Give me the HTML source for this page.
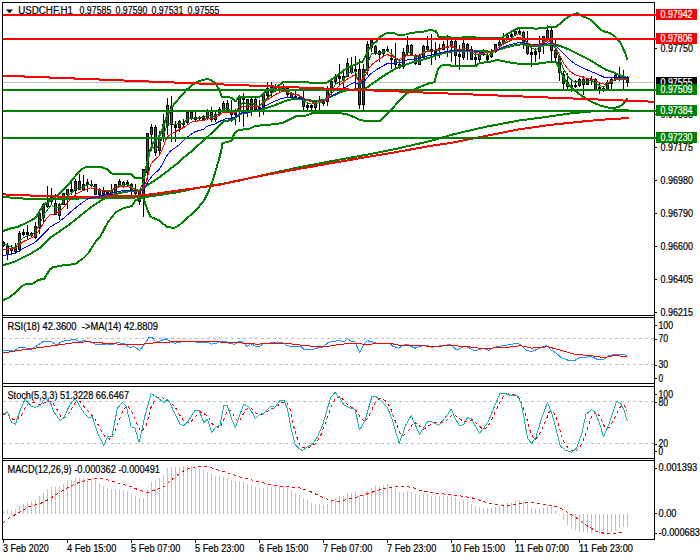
<!DOCTYPE html>
<html><head><meta charset="utf-8"><title>USDCHF H1</title>
<style>html,body{margin:0;padding:0;background:#fff}body{width:700px;height:560px;overflow:hidden;font-family:"Liberation Sans",sans-serif}svg{display:block}</style>
</head><body>
<svg width="700" height="560" viewBox="0 0 700 560" font-family="'Liberation Sans', sans-serif">
<rect width="700" height="560" fill="#fff"/>
<g clip-path="url(#cm)">
<defs><clipPath id="cm"><rect x="3" y="3" width="651" height="312"/></clipPath><clipPath id="c2"><rect x="3" y="318" width="651" height="65"/></clipPath><clipPath id="c3"><rect x="3" y="387" width="651" height="71"/></clipPath><clipPath id="c4"><rect x="3" y="461" width="651" height="78"/></clipPath></defs>
<line x1="3" y1="82.5" x2="654" y2="82.5" stroke="#c0c0c0" stroke-width="1" shape-rendering="crispEdges" />
<line x1="3.5" y1="241" x2="3.5" y2="247" stroke="#000" stroke-width="1" shape-rendering="crispEdges" />
<rect x="2" y="242" width="3" height="4" fill="#000" shape-rendering="crispEdges"/>
<rect x="3" y="243" width="1" height="2" fill="#ff0000" shape-rendering="crispEdges"/>
<line x1="7.5" y1="243" x2="7.5" y2="260" stroke="#000" stroke-width="1" shape-rendering="crispEdges" />
<rect x="6" y="246" width="3" height="8" fill="#000" shape-rendering="crispEdges"/>
<rect x="7" y="247" width="1" height="6" fill="#008000" shape-rendering="crispEdges"/>
<line x1="11.5" y1="245" x2="11.5" y2="255" stroke="#000" stroke-width="1" shape-rendering="crispEdges" />
<rect x="10" y="248" width="3" height="3" fill="#000" shape-rendering="crispEdges"/>
<rect x="11" y="249" width="1" height="1" fill="#ff0000" shape-rendering="crispEdges"/>
<line x1="15.5" y1="243" x2="15.5" y2="254" stroke="#000" stroke-width="1" shape-rendering="crispEdges" />
<rect x="14" y="248" width="3" height="4" fill="#000" shape-rendering="crispEdges"/>
<rect x="15" y="249" width="1" height="2" fill="#008000" shape-rendering="crispEdges"/>
<line x1="19.5" y1="231" x2="19.5" y2="252" stroke="#000" stroke-width="1" shape-rendering="crispEdges" />
<rect x="18" y="233" width="3" height="17" fill="#000" shape-rendering="crispEdges"/>
<rect x="19" y="234" width="1" height="15" fill="#008000" shape-rendering="crispEdges"/>
<line x1="23.5" y1="229" x2="23.5" y2="236" stroke="#000" stroke-width="1" shape-rendering="crispEdges" />
<rect x="22" y="232" width="3" height="3" fill="#000" shape-rendering="crispEdges"/>
<line x1="27.5" y1="225" x2="27.5" y2="240" stroke="#000" stroke-width="1" shape-rendering="crispEdges" />
<rect x="26" y="232" width="3" height="3" fill="#000" shape-rendering="crispEdges"/>
<line x1="31.5" y1="232" x2="31.5" y2="237" stroke="#000" stroke-width="1" shape-rendering="crispEdges" />
<rect x="30" y="233" width="3" height="3" fill="#000" shape-rendering="crispEdges"/>
<rect x="31" y="234" width="1" height="1" fill="#ff0000" shape-rendering="crispEdges"/>
<line x1="35.5" y1="222" x2="35.5" y2="239" stroke="#000" stroke-width="1" shape-rendering="crispEdges" />
<rect x="34" y="226" width="3" height="12" fill="#000" shape-rendering="crispEdges"/>
<rect x="35" y="227" width="1" height="10" fill="#008000" shape-rendering="crispEdges"/>
<line x1="39.5" y1="209" x2="39.5" y2="234" stroke="#000" stroke-width="1" shape-rendering="crispEdges" />
<rect x="38" y="213" width="3" height="15" fill="#000" shape-rendering="crispEdges"/>
<rect x="39" y="214" width="1" height="13" fill="#008000" shape-rendering="crispEdges"/>
<line x1="43.5" y1="203" x2="43.5" y2="224" stroke="#000" stroke-width="1" shape-rendering="crispEdges" />
<rect x="42" y="204" width="3" height="14" fill="#000" shape-rendering="crispEdges"/>
<rect x="43" y="205" width="1" height="12" fill="#008000" shape-rendering="crispEdges"/>
<line x1="47.5" y1="186" x2="47.5" y2="208" stroke="#000" stroke-width="1" shape-rendering="crispEdges" />
<rect x="46" y="202" width="3" height="5" fill="#000" shape-rendering="crispEdges"/>
<rect x="47" y="203" width="1" height="3" fill="#008000" shape-rendering="crispEdges"/>
<line x1="51.5" y1="188" x2="51.5" y2="204" stroke="#000" stroke-width="1" shape-rendering="crispEdges" />
<rect x="50" y="197" width="3" height="5" fill="#000" shape-rendering="crispEdges"/>
<rect x="51" y="198" width="1" height="3" fill="#008000" shape-rendering="crispEdges"/>
<line x1="55.5" y1="194" x2="55.5" y2="215" stroke="#000" stroke-width="1" shape-rendering="crispEdges" />
<rect x="54" y="203" width="3" height="12" fill="#000" shape-rendering="crispEdges"/>
<rect x="55" y="204" width="1" height="10" fill="#ff0000" shape-rendering="crispEdges"/>
<line x1="59.5" y1="203" x2="59.5" y2="220" stroke="#000" stroke-width="1" shape-rendering="crispEdges" />
<rect x="58" y="204" width="3" height="12" fill="#000" shape-rendering="crispEdges"/>
<rect x="59" y="205" width="1" height="10" fill="#008000" shape-rendering="crispEdges"/>
<line x1="63.5" y1="193" x2="63.5" y2="205" stroke="#000" stroke-width="1" shape-rendering="crispEdges" />
<rect x="62" y="193" width="3" height="12" fill="#000" shape-rendering="crispEdges"/>
<rect x="63" y="194" width="1" height="10" fill="#008000" shape-rendering="crispEdges"/>
<line x1="67.5" y1="189" x2="67.5" y2="209" stroke="#000" stroke-width="1" shape-rendering="crispEdges" />
<rect x="66" y="189" width="3" height="6" fill="#000" shape-rendering="crispEdges"/>
<rect x="67" y="190" width="1" height="4" fill="#008000" shape-rendering="crispEdges"/>
<line x1="71.5" y1="179" x2="71.5" y2="195" stroke="#000" stroke-width="1" shape-rendering="crispEdges" />
<rect x="70" y="189" width="3" height="3" fill="#000" shape-rendering="crispEdges"/>
<line x1="75.5" y1="179" x2="75.5" y2="200" stroke="#000" stroke-width="1" shape-rendering="crispEdges" />
<rect x="74" y="181" width="3" height="10" fill="#000" shape-rendering="crispEdges"/>
<rect x="75" y="182" width="1" height="8" fill="#008000" shape-rendering="crispEdges"/>
<line x1="79.5" y1="174" x2="79.5" y2="190" stroke="#000" stroke-width="1" shape-rendering="crispEdges" />
<rect x="78" y="181" width="3" height="9" fill="#000" shape-rendering="crispEdges"/>
<rect x="79" y="182" width="1" height="7" fill="#ff0000" shape-rendering="crispEdges"/>
<line x1="83.5" y1="175" x2="83.5" y2="191" stroke="#000" stroke-width="1" shape-rendering="crispEdges" />
<rect x="82" y="184" width="3" height="6" fill="#000" shape-rendering="crispEdges"/>
<rect x="83" y="185" width="1" height="4" fill="#008000" shape-rendering="crispEdges"/>
<line x1="87.5" y1="179" x2="87.5" y2="192" stroke="#000" stroke-width="1" shape-rendering="crispEdges" />
<rect x="86" y="182" width="3" height="3" fill="#000" shape-rendering="crispEdges"/>
<line x1="91.5" y1="180" x2="91.5" y2="187" stroke="#000" stroke-width="1" shape-rendering="crispEdges" />
<rect x="90" y="184" width="3" height="2" fill="#000" shape-rendering="crispEdges"/>
<line x1="95.5" y1="184" x2="95.5" y2="195" stroke="#000" stroke-width="1" shape-rendering="crispEdges" />
<rect x="94" y="184" width="3" height="11" fill="#000" shape-rendering="crispEdges"/>
<rect x="95" y="185" width="1" height="9" fill="#ff0000" shape-rendering="crispEdges"/>
<line x1="99.5" y1="188" x2="99.5" y2="196" stroke="#000" stroke-width="1" shape-rendering="crispEdges" />
<rect x="98" y="189" width="3" height="6" fill="#000" shape-rendering="crispEdges"/>
<rect x="99" y="190" width="1" height="4" fill="#ff0000" shape-rendering="crispEdges"/>
<line x1="103.5" y1="187" x2="103.5" y2="198" stroke="#000" stroke-width="1" shape-rendering="crispEdges" />
<rect x="102" y="190" width="3" height="5" fill="#000" shape-rendering="crispEdges"/>
<rect x="103" y="191" width="1" height="3" fill="#008000" shape-rendering="crispEdges"/>
<line x1="107.5" y1="191" x2="107.5" y2="197" stroke="#000" stroke-width="1" shape-rendering="crispEdges" />
<rect x="106" y="192" width="3" height="3" fill="#000" shape-rendering="crispEdges"/>
<line x1="111.5" y1="184" x2="111.5" y2="195" stroke="#000" stroke-width="1" shape-rendering="crispEdges" />
<rect x="110" y="190" width="3" height="5" fill="#000" shape-rendering="crispEdges"/>
<rect x="111" y="191" width="1" height="3" fill="#008000" shape-rendering="crispEdges"/>
<line x1="115.5" y1="184" x2="115.5" y2="195" stroke="#000" stroke-width="1" shape-rendering="crispEdges" />
<rect x="114" y="184" width="3" height="10" fill="#000" shape-rendering="crispEdges"/>
<rect x="115" y="185" width="1" height="8" fill="#008000" shape-rendering="crispEdges"/>
<line x1="119.5" y1="179" x2="119.5" y2="186" stroke="#000" stroke-width="1" shape-rendering="crispEdges" />
<rect x="118" y="181" width="3" height="4" fill="#000" shape-rendering="crispEdges"/>
<rect x="119" y="182" width="1" height="2" fill="#008000" shape-rendering="crispEdges"/>
<line x1="123.5" y1="181" x2="123.5" y2="188" stroke="#000" stroke-width="1" shape-rendering="crispEdges" />
<rect x="122" y="182" width="3" height="4" fill="#000" shape-rendering="crispEdges"/>
<rect x="123" y="183" width="1" height="2" fill="#ff0000" shape-rendering="crispEdges"/>
<line x1="127.5" y1="180" x2="127.5" y2="187" stroke="#000" stroke-width="1" shape-rendering="crispEdges" />
<rect x="126" y="182" width="3" height="3" fill="#000" shape-rendering="crispEdges"/>
<line x1="131.5" y1="183" x2="131.5" y2="198" stroke="#000" stroke-width="1" shape-rendering="crispEdges" />
<rect x="130" y="184" width="3" height="7" fill="#000" shape-rendering="crispEdges"/>
<rect x="131" y="185" width="1" height="5" fill="#ff0000" shape-rendering="crispEdges"/>
<line x1="135.5" y1="184" x2="135.5" y2="198" stroke="#000" stroke-width="1" shape-rendering="crispEdges" />
<rect x="134" y="190" width="3" height="4" fill="#000" shape-rendering="crispEdges"/>
<rect x="135" y="191" width="1" height="2" fill="#ff0000" shape-rendering="crispEdges"/>
<line x1="139.5" y1="190" x2="139.5" y2="205" stroke="#000" stroke-width="1" shape-rendering="crispEdges" />
<rect x="138" y="191" width="3" height="11" fill="#000" shape-rendering="crispEdges"/>
<rect x="139" y="192" width="1" height="9" fill="#008000" shape-rendering="crispEdges"/>
<line x1="143.5" y1="169" x2="143.5" y2="217" stroke="#000" stroke-width="1" shape-rendering="crispEdges" />
<rect x="142" y="169" width="3" height="30" fill="#000" shape-rendering="crispEdges"/>
<rect x="143" y="170" width="1" height="28" fill="#008000" shape-rendering="crispEdges"/>
<line x1="147.5" y1="133" x2="147.5" y2="180" stroke="#000" stroke-width="1" shape-rendering="crispEdges" />
<rect x="146" y="133" width="3" height="40" fill="#000" shape-rendering="crispEdges"/>
<rect x="147" y="134" width="1" height="38" fill="#008000" shape-rendering="crispEdges"/>
<line x1="151.5" y1="124" x2="151.5" y2="151" stroke="#000" stroke-width="1" shape-rendering="crispEdges" />
<rect x="150" y="127" width="3" height="8" fill="#000" shape-rendering="crispEdges"/>
<rect x="151" y="128" width="1" height="6" fill="#008000" shape-rendering="crispEdges"/>
<line x1="155.5" y1="125" x2="155.5" y2="156" stroke="#000" stroke-width="1" shape-rendering="crispEdges" />
<rect x="154" y="127" width="3" height="26" fill="#000" shape-rendering="crispEdges"/>
<rect x="155" y="128" width="1" height="24" fill="#ff0000" shape-rendering="crispEdges"/>
<line x1="159.5" y1="131" x2="159.5" y2="155" stroke="#000" stroke-width="1" shape-rendering="crispEdges" />
<rect x="158" y="138" width="3" height="13" fill="#000" shape-rendering="crispEdges"/>
<rect x="159" y="139" width="1" height="11" fill="#008000" shape-rendering="crispEdges"/>
<line x1="163.5" y1="114" x2="163.5" y2="142" stroke="#000" stroke-width="1" shape-rendering="crispEdges" />
<rect x="162" y="124" width="3" height="15" fill="#000" shape-rendering="crispEdges"/>
<rect x="163" y="125" width="1" height="13" fill="#008000" shape-rendering="crispEdges"/>
<line x1="167.5" y1="98" x2="167.5" y2="135" stroke="#000" stroke-width="1" shape-rendering="crispEdges" />
<rect x="166" y="105" width="3" height="21" fill="#000" shape-rendering="crispEdges"/>
<rect x="167" y="106" width="1" height="19" fill="#008000" shape-rendering="crispEdges"/>
<line x1="171.5" y1="96" x2="171.5" y2="142" stroke="#000" stroke-width="1" shape-rendering="crispEdges" />
<rect x="170" y="106" width="3" height="19" fill="#000" shape-rendering="crispEdges"/>
<rect x="171" y="107" width="1" height="17" fill="#ff0000" shape-rendering="crispEdges"/>
<line x1="175.5" y1="121" x2="175.5" y2="142" stroke="#000" stroke-width="1" shape-rendering="crispEdges" />
<rect x="174" y="125" width="3" height="3" fill="#000" shape-rendering="crispEdges"/>
<line x1="179.5" y1="120" x2="179.5" y2="132" stroke="#000" stroke-width="1" shape-rendering="crispEdges" />
<rect x="178" y="121" width="3" height="7" fill="#000" shape-rendering="crispEdges"/>
<rect x="179" y="122" width="1" height="5" fill="#008000" shape-rendering="crispEdges"/>
<line x1="183.5" y1="119" x2="183.5" y2="127" stroke="#000" stroke-width="1" shape-rendering="crispEdges" />
<rect x="182" y="123" width="3" height="2" fill="#000" shape-rendering="crispEdges"/>
<line x1="187.5" y1="111" x2="187.5" y2="124" stroke="#000" stroke-width="1" shape-rendering="crispEdges" />
<rect x="186" y="112" width="3" height="11" fill="#000" shape-rendering="crispEdges"/>
<rect x="187" y="113" width="1" height="9" fill="#008000" shape-rendering="crispEdges"/>
<line x1="191.5" y1="111" x2="191.5" y2="120" stroke="#000" stroke-width="1" shape-rendering="crispEdges" />
<rect x="190" y="112" width="3" height="7" fill="#000" shape-rendering="crispEdges"/>
<rect x="191" y="113" width="1" height="5" fill="#ff0000" shape-rendering="crispEdges"/>
<line x1="195.5" y1="112" x2="195.5" y2="122" stroke="#000" stroke-width="1" shape-rendering="crispEdges" />
<rect x="194" y="117" width="3" height="3" fill="#000" shape-rendering="crispEdges"/>
<line x1="199.5" y1="116" x2="199.5" y2="120" stroke="#000" stroke-width="1" shape-rendering="crispEdges" />
<rect x="198" y="117" width="3" height="2" fill="#000" shape-rendering="crispEdges"/>
<line x1="203.5" y1="115" x2="203.5" y2="121" stroke="#000" stroke-width="1" shape-rendering="crispEdges" />
<rect x="202" y="116" width="3" height="4" fill="#000" shape-rendering="crispEdges"/>
<line x1="207.5" y1="109" x2="207.5" y2="120" stroke="#000" stroke-width="1" shape-rendering="crispEdges" />
<rect x="206" y="111" width="3" height="8" fill="#000" shape-rendering="crispEdges"/>
<rect x="207" y="112" width="1" height="6" fill="#008000" shape-rendering="crispEdges"/>
<line x1="211.5" y1="107" x2="211.5" y2="122" stroke="#000" stroke-width="1" shape-rendering="crispEdges" />
<rect x="210" y="112" width="3" height="8" fill="#000" shape-rendering="crispEdges"/>
<rect x="211" y="113" width="1" height="6" fill="#ff0000" shape-rendering="crispEdges"/>
<line x1="215.5" y1="112" x2="215.5" y2="122" stroke="#000" stroke-width="1" shape-rendering="crispEdges" />
<rect x="214" y="114" width="3" height="6" fill="#000" shape-rendering="crispEdges"/>
<rect x="215" y="115" width="1" height="4" fill="#008000" shape-rendering="crispEdges"/>
<line x1="219.5" y1="107" x2="219.5" y2="116" stroke="#000" stroke-width="1" shape-rendering="crispEdges" />
<rect x="218" y="109" width="3" height="6" fill="#000" shape-rendering="crispEdges"/>
<rect x="219" y="110" width="1" height="4" fill="#008000" shape-rendering="crispEdges"/>
<line x1="223.5" y1="101" x2="223.5" y2="112" stroke="#000" stroke-width="1" shape-rendering="crispEdges" />
<rect x="222" y="103" width="3" height="9" fill="#000" shape-rendering="crispEdges"/>
<rect x="223" y="104" width="1" height="7" fill="#008000" shape-rendering="crispEdges"/>
<line x1="227.5" y1="100" x2="227.5" y2="111" stroke="#000" stroke-width="1" shape-rendering="crispEdges" />
<rect x="226" y="103" width="3" height="7" fill="#000" shape-rendering="crispEdges"/>
<rect x="227" y="104" width="1" height="5" fill="#ff0000" shape-rendering="crispEdges"/>
<line x1="231.5" y1="100" x2="231.5" y2="122" stroke="#000" stroke-width="1" shape-rendering="crispEdges" />
<rect x="230" y="112" width="3" height="3" fill="#000" shape-rendering="crispEdges"/>
<rect x="231" y="113" width="1" height="1" fill="#ff0000" shape-rendering="crispEdges"/>
<line x1="235.5" y1="109" x2="235.5" y2="125" stroke="#000" stroke-width="1" shape-rendering="crispEdges" />
<rect x="234" y="113" width="3" height="2" fill="#000" shape-rendering="crispEdges"/>
<line x1="239.5" y1="95" x2="239.5" y2="122" stroke="#000" stroke-width="1" shape-rendering="crispEdges" />
<rect x="238" y="96" width="3" height="15" fill="#000" shape-rendering="crispEdges"/>
<rect x="239" y="97" width="1" height="13" fill="#008000" shape-rendering="crispEdges"/>
<line x1="243.5" y1="93" x2="243.5" y2="127" stroke="#000" stroke-width="1" shape-rendering="crispEdges" />
<rect x="242" y="96" width="3" height="4" fill="#000" shape-rendering="crispEdges"/>
<line x1="247.5" y1="99" x2="247.5" y2="117" stroke="#000" stroke-width="1" shape-rendering="crispEdges" />
<rect x="246" y="99" width="3" height="11" fill="#000" shape-rendering="crispEdges"/>
<rect x="247" y="100" width="1" height="9" fill="#ff0000" shape-rendering="crispEdges"/>
<line x1="251.5" y1="98" x2="251.5" y2="116" stroke="#000" stroke-width="1" shape-rendering="crispEdges" />
<rect x="250" y="99" width="3" height="11" fill="#000" shape-rendering="crispEdges"/>
<rect x="251" y="100" width="1" height="9" fill="#008000" shape-rendering="crispEdges"/>
<line x1="255.5" y1="98" x2="255.5" y2="111" stroke="#000" stroke-width="1" shape-rendering="crispEdges" />
<rect x="254" y="99" width="3" height="11" fill="#000" shape-rendering="crispEdges"/>
<rect x="255" y="100" width="1" height="9" fill="#ff0000" shape-rendering="crispEdges"/>
<line x1="259.5" y1="100" x2="259.5" y2="117" stroke="#000" stroke-width="1" shape-rendering="crispEdges" />
<rect x="258" y="107" width="3" height="3" fill="#000" shape-rendering="crispEdges"/>
<line x1="263.5" y1="92" x2="263.5" y2="115" stroke="#000" stroke-width="1" shape-rendering="crispEdges" />
<rect x="262" y="93" width="3" height="15" fill="#000" shape-rendering="crispEdges"/>
<rect x="263" y="94" width="1" height="13" fill="#008000" shape-rendering="crispEdges"/>
<line x1="267.5" y1="82" x2="267.5" y2="98" stroke="#000" stroke-width="1" shape-rendering="crispEdges" />
<rect x="266" y="88" width="3" height="8" fill="#000" shape-rendering="crispEdges"/>
<rect x="267" y="89" width="1" height="6" fill="#ff0000" shape-rendering="crispEdges"/>
<line x1="271.5" y1="82" x2="271.5" y2="97" stroke="#000" stroke-width="1" shape-rendering="crispEdges" />
<rect x="270" y="87" width="3" height="6" fill="#000" shape-rendering="crispEdges"/>
<rect x="271" y="88" width="1" height="4" fill="#008000" shape-rendering="crispEdges"/>
<line x1="275.5" y1="84" x2="275.5" y2="92" stroke="#000" stroke-width="1" shape-rendering="crispEdges" />
<rect x="274" y="86" width="3" height="4" fill="#000" shape-rendering="crispEdges"/>
<rect x="275" y="87" width="1" height="2" fill="#008000" shape-rendering="crispEdges"/>
<line x1="279.5" y1="84" x2="279.5" y2="92" stroke="#000" stroke-width="1" shape-rendering="crispEdges" />
<rect x="278" y="86" width="3" height="4" fill="#000" shape-rendering="crispEdges"/>
<rect x="279" y="87" width="1" height="2" fill="#008000" shape-rendering="crispEdges"/>
<line x1="283.5" y1="84" x2="283.5" y2="92" stroke="#000" stroke-width="1" shape-rendering="crispEdges" />
<rect x="282" y="86" width="3" height="3" fill="#000" shape-rendering="crispEdges"/>
<line x1="287.5" y1="86" x2="287.5" y2="97" stroke="#000" stroke-width="1" shape-rendering="crispEdges" />
<rect x="286" y="88" width="3" height="7" fill="#000" shape-rendering="crispEdges"/>
<rect x="287" y="89" width="1" height="5" fill="#ff0000" shape-rendering="crispEdges"/>
<line x1="291.5" y1="92" x2="291.5" y2="99" stroke="#000" stroke-width="1" shape-rendering="crispEdges" />
<rect x="290" y="94" width="3" height="4" fill="#000" shape-rendering="crispEdges"/>
<rect x="291" y="95" width="1" height="2" fill="#ff0000" shape-rendering="crispEdges"/>
<line x1="295.5" y1="91" x2="295.5" y2="100" stroke="#000" stroke-width="1" shape-rendering="crispEdges" />
<rect x="294" y="96" width="3" height="3" fill="#000" shape-rendering="crispEdges"/>
<line x1="299.5" y1="96" x2="299.5" y2="100" stroke="#000" stroke-width="1" shape-rendering="crispEdges" />
<rect x="298" y="97" width="3" height="2" fill="#000" shape-rendering="crispEdges"/>
<line x1="303.5" y1="91" x2="303.5" y2="110" stroke="#000" stroke-width="1" shape-rendering="crispEdges" />
<rect x="302" y="98" width="3" height="9" fill="#000" shape-rendering="crispEdges"/>
<rect x="303" y="99" width="1" height="7" fill="#ff0000" shape-rendering="crispEdges"/>
<line x1="307.5" y1="103" x2="307.5" y2="111" stroke="#000" stroke-width="1" shape-rendering="crispEdges" />
<rect x="306" y="105" width="3" height="3" fill="#000" shape-rendering="crispEdges"/>
<line x1="311.5" y1="104" x2="311.5" y2="110" stroke="#000" stroke-width="1" shape-rendering="crispEdges" />
<rect x="310" y="105" width="3" height="3" fill="#000" shape-rendering="crispEdges"/>
<line x1="315.5" y1="101" x2="315.5" y2="110" stroke="#000" stroke-width="1" shape-rendering="crispEdges" />
<rect x="314" y="103" width="3" height="5" fill="#000" shape-rendering="crispEdges"/>
<rect x="315" y="104" width="1" height="3" fill="#008000" shape-rendering="crispEdges"/>
<line x1="319.5" y1="96" x2="319.5" y2="110" stroke="#000" stroke-width="1" shape-rendering="crispEdges" />
<rect x="318" y="101" width="3" height="2" fill="#000" shape-rendering="crispEdges"/>
<line x1="323.5" y1="100" x2="323.5" y2="106" stroke="#000" stroke-width="1" shape-rendering="crispEdges" />
<rect x="322" y="102" width="3" height="2" fill="#000" shape-rendering="crispEdges"/>
<line x1="327.5" y1="86" x2="327.5" y2="106" stroke="#000" stroke-width="1" shape-rendering="crispEdges" />
<rect x="326" y="90" width="3" height="12" fill="#000" shape-rendering="crispEdges"/>
<rect x="327" y="91" width="1" height="10" fill="#008000" shape-rendering="crispEdges"/>
<line x1="331.5" y1="81" x2="331.5" y2="95" stroke="#000" stroke-width="1" shape-rendering="crispEdges" />
<rect x="330" y="81" width="3" height="9" fill="#000" shape-rendering="crispEdges"/>
<rect x="331" y="82" width="1" height="7" fill="#008000" shape-rendering="crispEdges"/>
<line x1="335.5" y1="74" x2="335.5" y2="85" stroke="#000" stroke-width="1" shape-rendering="crispEdges" />
<rect x="334" y="76" width="3" height="6" fill="#000" shape-rendering="crispEdges"/>
<rect x="335" y="77" width="1" height="4" fill="#008000" shape-rendering="crispEdges"/>
<line x1="339.5" y1="64" x2="339.5" y2="85" stroke="#000" stroke-width="1" shape-rendering="crispEdges" />
<rect x="338" y="76" width="3" height="3" fill="#000" shape-rendering="crispEdges"/>
<line x1="343.5" y1="72" x2="343.5" y2="91" stroke="#000" stroke-width="1" shape-rendering="crispEdges" />
<rect x="342" y="76" width="3" height="5" fill="#000" shape-rendering="crispEdges"/>
<rect x="343" y="77" width="1" height="3" fill="#ff0000" shape-rendering="crispEdges"/>
<line x1="347.5" y1="58" x2="347.5" y2="77" stroke="#000" stroke-width="1" shape-rendering="crispEdges" />
<rect x="346" y="63" width="3" height="14" fill="#000" shape-rendering="crispEdges"/>
<rect x="347" y="64" width="1" height="12" fill="#008000" shape-rendering="crispEdges"/>
<line x1="351.5" y1="57" x2="351.5" y2="74" stroke="#000" stroke-width="1" shape-rendering="crispEdges" />
<rect x="350" y="66" width="3" height="7" fill="#000" shape-rendering="crispEdges"/>
<rect x="351" y="67" width="1" height="5" fill="#ff0000" shape-rendering="crispEdges"/>
<line x1="355.5" y1="56" x2="355.5" y2="90" stroke="#000" stroke-width="1" shape-rendering="crispEdges" />
<rect x="354" y="69" width="3" height="3" fill="#000" shape-rendering="crispEdges"/>
<line x1="359.5" y1="59" x2="359.5" y2="109" stroke="#000" stroke-width="1" shape-rendering="crispEdges" />
<rect x="358" y="69" width="3" height="36" fill="#000" shape-rendering="crispEdges"/>
<rect x="359" y="70" width="1" height="34" fill="#ff0000" shape-rendering="crispEdges"/>
<line x1="363.5" y1="64" x2="363.5" y2="110" stroke="#000" stroke-width="1" shape-rendering="crispEdges" />
<rect x="362" y="69" width="3" height="36" fill="#000" shape-rendering="crispEdges"/>
<rect x="363" y="70" width="1" height="34" fill="#008000" shape-rendering="crispEdges"/>
<line x1="367.5" y1="41" x2="367.5" y2="75" stroke="#000" stroke-width="1" shape-rendering="crispEdges" />
<rect x="366" y="44" width="3" height="27" fill="#000" shape-rendering="crispEdges"/>
<rect x="367" y="45" width="1" height="25" fill="#008000" shape-rendering="crispEdges"/>
<line x1="371.5" y1="38" x2="371.5" y2="52" stroke="#000" stroke-width="1" shape-rendering="crispEdges" />
<rect x="370" y="40" width="3" height="8" fill="#000" shape-rendering="crispEdges"/>
<rect x="371" y="41" width="1" height="6" fill="#008000" shape-rendering="crispEdges"/>
<line x1="375.5" y1="45" x2="375.5" y2="55" stroke="#000" stroke-width="1" shape-rendering="crispEdges" />
<rect x="374" y="46" width="3" height="7" fill="#000" shape-rendering="crispEdges"/>
<rect x="375" y="47" width="1" height="5" fill="#ff0000" shape-rendering="crispEdges"/>
<line x1="379.5" y1="50" x2="379.5" y2="62" stroke="#000" stroke-width="1" shape-rendering="crispEdges" />
<rect x="378" y="51" width="3" height="4" fill="#000" shape-rendering="crispEdges"/>
<rect x="379" y="52" width="1" height="2" fill="#ff0000" shape-rendering="crispEdges"/>
<line x1="383.5" y1="49" x2="383.5" y2="57" stroke="#000" stroke-width="1" shape-rendering="crispEdges" />
<rect x="382" y="49" width="3" height="5" fill="#000" shape-rendering="crispEdges"/>
<rect x="383" y="50" width="1" height="3" fill="#008000" shape-rendering="crispEdges"/>
<line x1="387.5" y1="46" x2="387.5" y2="52" stroke="#000" stroke-width="1" shape-rendering="crispEdges" />
<rect x="386" y="49" width="3" height="2" fill="#000" shape-rendering="crispEdges"/>
<line x1="391.5" y1="49" x2="391.5" y2="69" stroke="#000" stroke-width="1" shape-rendering="crispEdges" />
<rect x="390" y="58" width="3" height="2" fill="#000" shape-rendering="crispEdges"/>
<line x1="395.5" y1="43" x2="395.5" y2="69" stroke="#000" stroke-width="1" shape-rendering="crispEdges" />
<rect x="394" y="59" width="3" height="6" fill="#000" shape-rendering="crispEdges"/>
<rect x="395" y="60" width="1" height="4" fill="#ff0000" shape-rendering="crispEdges"/>
<line x1="399.5" y1="60" x2="399.5" y2="69" stroke="#000" stroke-width="1" shape-rendering="crispEdges" />
<rect x="398" y="64" width="3" height="3" fill="#000" shape-rendering="crispEdges"/>
<rect x="399" y="65" width="1" height="1" fill="#ff0000" shape-rendering="crispEdges"/>
<line x1="403.5" y1="48" x2="403.5" y2="69" stroke="#000" stroke-width="1" shape-rendering="crispEdges" />
<rect x="402" y="52" width="3" height="15" fill="#000" shape-rendering="crispEdges"/>
<rect x="403" y="53" width="1" height="13" fill="#008000" shape-rendering="crispEdges"/>
<line x1="407.5" y1="36" x2="407.5" y2="55" stroke="#000" stroke-width="1" shape-rendering="crispEdges" />
<rect x="406" y="45" width="3" height="8" fill="#000" shape-rendering="crispEdges"/>
<rect x="407" y="46" width="1" height="6" fill="#008000" shape-rendering="crispEdges"/>
<line x1="411.5" y1="44" x2="411.5" y2="56" stroke="#000" stroke-width="1" shape-rendering="crispEdges" />
<rect x="410" y="45" width="3" height="10" fill="#000" shape-rendering="crispEdges"/>
<rect x="411" y="46" width="1" height="8" fill="#ff0000" shape-rendering="crispEdges"/>
<line x1="415.5" y1="54" x2="415.5" y2="65" stroke="#000" stroke-width="1" shape-rendering="crispEdges" />
<rect x="414" y="55" width="3" height="9" fill="#000" shape-rendering="crispEdges"/>
<rect x="415" y="56" width="1" height="7" fill="#ff0000" shape-rendering="crispEdges"/>
<line x1="419.5" y1="54" x2="419.5" y2="65" stroke="#000" stroke-width="1" shape-rendering="crispEdges" />
<rect x="418" y="55" width="3" height="10" fill="#000" shape-rendering="crispEdges"/>
<rect x="419" y="56" width="1" height="8" fill="#008000" shape-rendering="crispEdges"/>
<line x1="423.5" y1="45" x2="423.5" y2="59" stroke="#000" stroke-width="1" shape-rendering="crispEdges" />
<rect x="422" y="46" width="3" height="12" fill="#000" shape-rendering="crispEdges"/>
<rect x="423" y="47" width="1" height="10" fill="#008000" shape-rendering="crispEdges"/>
<line x1="427.5" y1="36" x2="427.5" y2="51" stroke="#000" stroke-width="1" shape-rendering="crispEdges" />
<rect x="426" y="46" width="3" height="4" fill="#000" shape-rendering="crispEdges"/>
<rect x="427" y="47" width="1" height="2" fill="#ff0000" shape-rendering="crispEdges"/>
<line x1="431.5" y1="34" x2="431.5" y2="65" stroke="#000" stroke-width="1" shape-rendering="crispEdges" />
<rect x="430" y="49" width="3" height="3" fill="#000" shape-rendering="crispEdges"/>
<line x1="435.5" y1="42" x2="435.5" y2="60" stroke="#000" stroke-width="1" shape-rendering="crispEdges" />
<rect x="434" y="51" width="3" height="3" fill="#000" shape-rendering="crispEdges"/>
<line x1="439.5" y1="44" x2="439.5" y2="58" stroke="#000" stroke-width="1" shape-rendering="crispEdges" />
<rect x="438" y="48" width="3" height="2" fill="#000" shape-rendering="crispEdges"/>
<line x1="443.5" y1="41" x2="443.5" y2="50" stroke="#000" stroke-width="1" shape-rendering="crispEdges" />
<rect x="442" y="44" width="3" height="6" fill="#000" shape-rendering="crispEdges"/>
<rect x="443" y="45" width="1" height="4" fill="#008000" shape-rendering="crispEdges"/>
<line x1="447.5" y1="35" x2="447.5" y2="57" stroke="#000" stroke-width="1" shape-rendering="crispEdges" />
<rect x="446" y="46" width="3" height="2" fill="#000" shape-rendering="crispEdges"/>
<line x1="451.5" y1="40" x2="451.5" y2="62" stroke="#000" stroke-width="1" shape-rendering="crispEdges" />
<rect x="450" y="41" width="3" height="5" fill="#000" shape-rendering="crispEdges"/>
<rect x="451" y="42" width="1" height="3" fill="#008000" shape-rendering="crispEdges"/>
<line x1="455.5" y1="40" x2="455.5" y2="65" stroke="#000" stroke-width="1" shape-rendering="crispEdges" />
<rect x="454" y="41" width="3" height="15" fill="#000" shape-rendering="crispEdges"/>
<rect x="455" y="42" width="1" height="13" fill="#ff0000" shape-rendering="crispEdges"/>
<line x1="459.5" y1="45" x2="459.5" y2="70" stroke="#000" stroke-width="1" shape-rendering="crispEdges" />
<rect x="458" y="54" width="3" height="3" fill="#000" shape-rendering="crispEdges"/>
<line x1="463.5" y1="39" x2="463.5" y2="60" stroke="#000" stroke-width="1" shape-rendering="crispEdges" />
<rect x="462" y="43" width="3" height="15" fill="#000" shape-rendering="crispEdges"/>
<rect x="463" y="44" width="1" height="13" fill="#008000" shape-rendering="crispEdges"/>
<line x1="467.5" y1="43" x2="467.5" y2="60" stroke="#000" stroke-width="1" shape-rendering="crispEdges" />
<rect x="466" y="44" width="3" height="6" fill="#000" shape-rendering="crispEdges"/>
<rect x="467" y="45" width="1" height="4" fill="#ff0000" shape-rendering="crispEdges"/>
<line x1="471.5" y1="46" x2="471.5" y2="60" stroke="#000" stroke-width="1" shape-rendering="crispEdges" />
<rect x="470" y="49" width="3" height="11" fill="#000" shape-rendering="crispEdges"/>
<rect x="471" y="50" width="1" height="9" fill="#ff0000" shape-rendering="crispEdges"/>
<line x1="475.5" y1="53" x2="475.5" y2="65" stroke="#000" stroke-width="1" shape-rendering="crispEdges" />
<rect x="474" y="57" width="3" height="3" fill="#000" shape-rendering="crispEdges"/>
<line x1="479.5" y1="51" x2="479.5" y2="62" stroke="#000" stroke-width="1" shape-rendering="crispEdges" />
<rect x="478" y="54" width="3" height="6" fill="#000" shape-rendering="crispEdges"/>
<rect x="479" y="55" width="1" height="4" fill="#008000" shape-rendering="crispEdges"/>
<line x1="483.5" y1="49" x2="483.5" y2="56" stroke="#000" stroke-width="1" shape-rendering="crispEdges" />
<rect x="482" y="52" width="3" height="3" fill="#000" shape-rendering="crispEdges"/>
<line x1="487.5" y1="53" x2="487.5" y2="62" stroke="#000" stroke-width="1" shape-rendering="crispEdges" />
<rect x="486" y="56" width="3" height="4" fill="#000" shape-rendering="crispEdges"/>
<line x1="491.5" y1="49" x2="491.5" y2="58" stroke="#000" stroke-width="1" shape-rendering="crispEdges" />
<rect x="490" y="52" width="3" height="5" fill="#000" shape-rendering="crispEdges"/>
<rect x="491" y="53" width="1" height="3" fill="#008000" shape-rendering="crispEdges"/>
<line x1="495.5" y1="44" x2="495.5" y2="53" stroke="#000" stroke-width="1" shape-rendering="crispEdges" />
<rect x="494" y="44" width="3" height="8" fill="#000" shape-rendering="crispEdges"/>
<rect x="495" y="45" width="1" height="6" fill="#008000" shape-rendering="crispEdges"/>
<line x1="499.5" y1="40" x2="499.5" y2="47" stroke="#000" stroke-width="1" shape-rendering="crispEdges" />
<rect x="498" y="42" width="3" height="4" fill="#000" shape-rendering="crispEdges"/>
<rect x="499" y="43" width="1" height="2" fill="#008000" shape-rendering="crispEdges"/>
<line x1="503.5" y1="33" x2="503.5" y2="45" stroke="#000" stroke-width="1" shape-rendering="crispEdges" />
<rect x="502" y="38" width="3" height="6" fill="#000" shape-rendering="crispEdges"/>
<rect x="503" y="39" width="1" height="4" fill="#008000" shape-rendering="crispEdges"/>
<line x1="507.5" y1="33" x2="507.5" y2="40" stroke="#000" stroke-width="1" shape-rendering="crispEdges" />
<rect x="506" y="35" width="3" height="4" fill="#000" shape-rendering="crispEdges"/>
<rect x="507" y="36" width="1" height="2" fill="#008000" shape-rendering="crispEdges"/>
<line x1="511.5" y1="31" x2="511.5" y2="39" stroke="#000" stroke-width="1" shape-rendering="crispEdges" />
<rect x="510" y="34" width="3" height="3" fill="#000" shape-rendering="crispEdges"/>
<line x1="515.5" y1="28" x2="515.5" y2="36" stroke="#000" stroke-width="1" shape-rendering="crispEdges" />
<rect x="514" y="31" width="3" height="4" fill="#000" shape-rendering="crispEdges"/>
<rect x="515" y="32" width="1" height="2" fill="#008000" shape-rendering="crispEdges"/>
<line x1="519.5" y1="27" x2="519.5" y2="35" stroke="#000" stroke-width="1" shape-rendering="crispEdges" />
<rect x="518" y="31" width="3" height="3" fill="#000" shape-rendering="crispEdges"/>
<line x1="523.5" y1="31" x2="523.5" y2="49" stroke="#000" stroke-width="1" shape-rendering="crispEdges" />
<rect x="522" y="32" width="3" height="13" fill="#000" shape-rendering="crispEdges"/>
<rect x="523" y="33" width="1" height="11" fill="#ff0000" shape-rendering="crispEdges"/>
<line x1="527.5" y1="31" x2="527.5" y2="55" stroke="#000" stroke-width="1" shape-rendering="crispEdges" />
<rect x="526" y="44" width="3" height="10" fill="#000" shape-rendering="crispEdges"/>
<rect x="527" y="45" width="1" height="8" fill="#ff0000" shape-rendering="crispEdges"/>
<line x1="531.5" y1="48" x2="531.5" y2="67" stroke="#000" stroke-width="1" shape-rendering="crispEdges" />
<rect x="530" y="52" width="3" height="3" fill="#000" shape-rendering="crispEdges"/>
<line x1="535.5" y1="48" x2="535.5" y2="62" stroke="#000" stroke-width="1" shape-rendering="crispEdges" />
<rect x="534" y="51" width="3" height="4" fill="#000" shape-rendering="crispEdges"/>
<line x1="539.5" y1="36" x2="539.5" y2="59" stroke="#000" stroke-width="1" shape-rendering="crispEdges" />
<rect x="538" y="44" width="3" height="8" fill="#000" shape-rendering="crispEdges"/>
<rect x="539" y="45" width="1" height="6" fill="#008000" shape-rendering="crispEdges"/>
<line x1="543.5" y1="36" x2="543.5" y2="54" stroke="#000" stroke-width="1" shape-rendering="crispEdges" />
<rect x="542" y="36" width="3" height="9" fill="#000" shape-rendering="crispEdges"/>
<rect x="543" y="37" width="1" height="7" fill="#008000" shape-rendering="crispEdges"/>
<line x1="547.5" y1="25" x2="547.5" y2="40" stroke="#000" stroke-width="1" shape-rendering="crispEdges" />
<rect x="546" y="30" width="3" height="9" fill="#000" shape-rendering="crispEdges"/>
<rect x="547" y="31" width="1" height="7" fill="#008000" shape-rendering="crispEdges"/>
<line x1="551.5" y1="28" x2="551.5" y2="61" stroke="#000" stroke-width="1" shape-rendering="crispEdges" />
<rect x="550" y="30" width="3" height="21" fill="#000" shape-rendering="crispEdges"/>
<rect x="551" y="31" width="1" height="19" fill="#ff0000" shape-rendering="crispEdges"/>
<line x1="555.5" y1="40" x2="555.5" y2="61" stroke="#000" stroke-width="1" shape-rendering="crispEdges" />
<rect x="554" y="50" width="3" height="8" fill="#000" shape-rendering="crispEdges"/>
<rect x="555" y="51" width="1" height="6" fill="#ff0000" shape-rendering="crispEdges"/>
<line x1="559.5" y1="54" x2="559.5" y2="81" stroke="#000" stroke-width="1" shape-rendering="crispEdges" />
<rect x="558" y="56" width="3" height="17" fill="#000" shape-rendering="crispEdges"/>
<rect x="559" y="57" width="1" height="15" fill="#ff0000" shape-rendering="crispEdges"/>
<line x1="563.5" y1="71" x2="563.5" y2="91" stroke="#000" stroke-width="1" shape-rendering="crispEdges" />
<rect x="562" y="74" width="3" height="10" fill="#000" shape-rendering="crispEdges"/>
<rect x="563" y="75" width="1" height="8" fill="#ff0000" shape-rendering="crispEdges"/>
<line x1="567.5" y1="73" x2="567.5" y2="91" stroke="#000" stroke-width="1" shape-rendering="crispEdges" />
<rect x="566" y="82" width="3" height="5" fill="#000" shape-rendering="crispEdges"/>
<rect x="567" y="83" width="1" height="3" fill="#ff0000" shape-rendering="crispEdges"/>
<line x1="571.5" y1="81" x2="571.5" y2="92" stroke="#000" stroke-width="1" shape-rendering="crispEdges" />
<rect x="570" y="85" width="3" height="2" fill="#000" shape-rendering="crispEdges"/>
<line x1="575.5" y1="80" x2="575.5" y2="88" stroke="#000" stroke-width="1" shape-rendering="crispEdges" />
<rect x="574" y="85" width="3" height="2" fill="#000" shape-rendering="crispEdges"/>
<line x1="579.5" y1="78" x2="579.5" y2="87" stroke="#000" stroke-width="1" shape-rendering="crispEdges" />
<rect x="578" y="79" width="3" height="7" fill="#000" shape-rendering="crispEdges"/>
<rect x="579" y="80" width="1" height="5" fill="#008000" shape-rendering="crispEdges"/>
<line x1="583.5" y1="76" x2="583.5" y2="95" stroke="#000" stroke-width="1" shape-rendering="crispEdges" />
<rect x="582" y="79" width="3" height="6" fill="#000" shape-rendering="crispEdges"/>
<rect x="583" y="80" width="1" height="4" fill="#ff0000" shape-rendering="crispEdges"/>
<line x1="587.5" y1="79" x2="587.5" y2="85" stroke="#000" stroke-width="1" shape-rendering="crispEdges" />
<rect x="586" y="79" width="3" height="6" fill="#000" shape-rendering="crispEdges"/>
<rect x="587" y="80" width="1" height="4" fill="#008000" shape-rendering="crispEdges"/>
<line x1="591.5" y1="76" x2="591.5" y2="85" stroke="#000" stroke-width="1" shape-rendering="crispEdges" />
<rect x="590" y="79" width="3" height="2" fill="#000" shape-rendering="crispEdges"/>
<line x1="595.5" y1="78" x2="595.5" y2="90" stroke="#000" stroke-width="1" shape-rendering="crispEdges" />
<rect x="594" y="79" width="3" height="11" fill="#000" shape-rendering="crispEdges"/>
<rect x="595" y="80" width="1" height="9" fill="#ff0000" shape-rendering="crispEdges"/>
<line x1="599.5" y1="83" x2="599.5" y2="94" stroke="#000" stroke-width="1" shape-rendering="crispEdges" />
<rect x="598" y="87" width="3" height="3" fill="#000" shape-rendering="crispEdges"/>
<line x1="603.5" y1="86" x2="603.5" y2="92" stroke="#000" stroke-width="1" shape-rendering="crispEdges" />
<rect x="602" y="88" width="3" height="2" fill="#000" shape-rendering="crispEdges"/>
<line x1="607.5" y1="80" x2="607.5" y2="90" stroke="#000" stroke-width="1" shape-rendering="crispEdges" />
<rect x="606" y="82" width="3" height="8" fill="#000" shape-rendering="crispEdges"/>
<rect x="607" y="83" width="1" height="6" fill="#008000" shape-rendering="crispEdges"/>
<line x1="611.5" y1="78" x2="611.5" y2="90" stroke="#000" stroke-width="1" shape-rendering="crispEdges" />
<rect x="610" y="79" width="3" height="5" fill="#000" shape-rendering="crispEdges"/>
<rect x="611" y="80" width="1" height="3" fill="#008000" shape-rendering="crispEdges"/>
<line x1="615.5" y1="74" x2="615.5" y2="81" stroke="#000" stroke-width="1" shape-rendering="crispEdges" />
<rect x="614" y="75" width="3" height="5" fill="#000" shape-rendering="crispEdges"/>
<rect x="615" y="76" width="1" height="3" fill="#008000" shape-rendering="crispEdges"/>
<line x1="619.5" y1="67" x2="619.5" y2="81" stroke="#000" stroke-width="1" shape-rendering="crispEdges" />
<rect x="618" y="76" width="3" height="3" fill="#000" shape-rendering="crispEdges"/>
<line x1="623.5" y1="70" x2="623.5" y2="89" stroke="#000" stroke-width="1" shape-rendering="crispEdges" />
<rect x="622" y="78" width="3" height="2" fill="#000" shape-rendering="crispEdges"/>
<line x1="627.5" y1="76" x2="627.5" y2="87" stroke="#000" stroke-width="1" shape-rendering="crispEdges" />
<rect x="626" y="77" width="3" height="6" fill="#000" shape-rendering="crispEdges"/>
<rect x="627" y="78" width="1" height="4" fill="#ff0000" shape-rendering="crispEdges"/>
<polyline points="3.0,231.0 11.0,228.3 17.1,227.1 28.6,221.8 35.7,217.9 39.3,211.4 42.9,205.7 48.6,201.4 57.1,195.7 62.9,190.0 68.6,184.3 75.7,175.7 81.4,169.3 87.1,166.6 100.0,166.6 107.1,169.3 112.9,174.3 120.0,173.8 131.4,174.3 135.0,177.7 143.0,178.0 144.5,176.0 146.8,164.6 149.5,152.0 153.0,143.0 158.6,137.1 162.0,130.7 166.4,117.1 172.9,105.7 180.0,97.1 187.1,89.3 192.9,84.3 198.6,81.4 202.9,80.0 207.1,78.9 211.4,80.3 215.7,83.6 219.3,90.0 222.0,97.0 228.6,96.9 232.9,98.6 235.7,101.4 238.6,97.1 248.6,97.4 261.4,96.4 262.9,93.6 267.1,90.7 272.9,88.6 278.6,85.7 282.9,82.1 305.7,82.1 311.4,82.9 327.1,82.6 332.9,78.6 340.0,73.6 347.1,67.9 355.7,64.3 362.9,61.4 365.7,55.7 368.6,50.0 372.9,44.3 376.0,41.7 380.6,36.6 387.4,32.6 393.1,32.6 397.7,34.9 405.7,34.5 412.6,32.6 421.7,32.2 428.6,30.3 435.4,30.6 437.7,34.3 438.9,37.4 462.0,37.6 464.0,36.8 474.0,36.8 476.0,37.6 501.7,37.8 507.4,34.0 513.1,30.6 518.9,27.7 526.9,28.3 537.1,28.6 544.3,27.9 550.0,27.1 555.7,26.9 560.0,23.9 564.6,19.3 569.1,16.4 573.0,14.5 577.7,13.2 581.7,15.9 586.3,17.6 590.9,19.9 594.3,23.3 598.9,27.9 602.3,30.7 605.7,31.9 610.3,33.3 614.9,36.4 618.3,39.9 620.6,43.3 622.9,47.9 625.1,53.0 627.1,58.7" fill="none" stroke="#008000" stroke-width="2" stroke-linejoin="round" stroke-linecap="round" shape-rendering="crispEdges"/>
<polyline points="2.0,265.5 14.0,262.0 30.0,254.0 40.0,248.0 50.0,238.0 60.0,231.0 70.0,224.0 80.0,216.0 90.0,208.0 100.0,201.0 108.0,197.0 116.0,194.0 124.0,192.0 132.0,191.0 140.0,190.5 143.0,188.6 148.6,184.3 158.6,177.9 167.1,171.4 177.1,163.6 184.3,157.1 191.4,151.4 192.9,150.0 200.3,143.3 206.7,137.6 213.9,131.1 221.0,124.0 223.9,121.1 227.4,120.8 233.1,119.4 236.0,117.2 238.9,115.4 241.7,113.3 246.0,113.0 248.6,112.1 260.0,110.0 267.1,107.9 277.1,104.3 284.3,101.4 291.4,99.3 300.0,99.3 305.7,100.0 312.9,100.7 318.6,100.7 324.3,100.0 331.4,96.4 338.6,92.9 347.1,90.0 357.1,89.3 365.7,88.6 371.4,84.3 378.6,79.3 387.1,73.6 395.7,68.6 404.3,65.0 408.6,63.6 418.6,60.7 428.6,57.9 437.1,55.0 447.1,52.1 457.1,50.7 468.6,50.7 475.7,51.4 485.7,50.7 490.0,52.1 495.7,50.7 504.3,47.9 512.9,45.7 521.4,44.3 530.0,45.7 538.6,46.4 547.1,45.0 554.3,44.3 561.4,46.4 568.6,49.3 575.7,52.9 582.9,56.4 590.0,60.0 597.9,65.0 606.4,70.0 615.0,72.9 620.7,75.7 626.4,77.9" fill="none" stroke="#008000" stroke-width="2" stroke-linejoin="round" stroke-linecap="round" shape-rendering="crispEdges"/>
<polyline points="2.0,300.5 8.6,297.9 14.3,293.6 21.4,286.4 25.7,284.3 32.9,283.6 38.6,280.0 44.3,278.6 50.0,269.3 52.9,267.4 60.0,265.7 68.6,265.0 75.7,263.6 82.9,258.6 88.6,252.9 92.9,245.7 97.1,240.0 100.0,237.1 108.0,222.0 116.0,212.0 124.0,208.0 132.0,206.0 135.7,200.0 143.0,197.9 145.0,202.9 147.9,211.4 150.7,217.1 158.6,220.0 162.9,223.6 167.1,227.1 174.3,227.9 178.6,225.7 184.3,220.7 191.4,214.3 198.6,207.1 204.3,200.0 208.6,191.4 212.9,180.0 217.1,165.7 220.0,155.7 221.4,150.0 222.4,143.6 226.7,141.9 231.0,141.1 232.8,139.0 233.5,135.4 234.9,132.6 237.4,130.8 240.3,129.6 248.6,129.3 254.3,126.4 262.9,125.0 274.3,124.3 282.9,122.9 288.6,120.0 295.7,116.4 305.7,115.7 312.9,112.9 324.3,112.9 338.6,112.9 347.1,114.3 355.7,117.9 360.0,120.0 367.6,121.4 379.1,121.4 381.4,120.0 387.1,114.3 391.4,110.0 397.1,102.9 402.9,97.1 405.7,94.3 414.3,89.3 422.9,85.7 428.6,83.4 434.3,82.3 436.6,74.3 438.3,68.6 441.1,65.7 444.6,64.6 449.1,65.4 457.1,66.0 475.7,66.0 480.0,62.9 488.6,62.1 494.3,60.7 497.1,60.0 504.3,61.4 512.9,63.1 522.9,64.0 532.9,64.3 541.4,63.1 551.4,61.7 556.4,62.1 558.6,67.1 561.4,72.9 564.3,78.6 567.1,82.9 570.0,86.4 575.0,90.7 583.6,97.1 592.1,102.1 600.7,105.7 609.3,107.9 617.9,107.4 622.1,105.0 625.0,102.1 627.1,98.6" fill="none" stroke="#008000" stroke-width="2" stroke-linejoin="round" stroke-linecap="round" shape-rendering="crispEdges"/>
<polyline points="3.0,197.0 30.0,199.0 60.0,199.0 100.0,198.0 143.0,197.4 176.0,192.5 200.0,187.5 232.9,182.0 265.7,174.5 298.6,167.4 331.4,161.1 364.3,155.2 397.2,148.6 430.0,141.1 452.9,134.4 485.7,126.8 518.6,120.6 551.4,116.2 569.3,113.6 583.6,112.1 597.9,111.0 627.9,110.0" fill="none" stroke="#008000" stroke-width="2" stroke-linejoin="round" stroke-linecap="round" shape-rendering="crispEdges"/>
<polyline points="3.0,194.4 30.0,195.5 60.0,196.6 100.0,196.5 143.0,195.4 220.0,184.7 232.9,181.5 265.7,174.9 298.6,169.0 331.4,163.1 364.3,157.5 397.2,151.9 430.0,146.0 452.9,142.6 485.7,136.0 518.6,129.4 551.4,124.8 569.3,122.9 583.6,121.4 597.9,120.0 612.1,119.0 627.9,118.1" fill="none" stroke="#ff0000" stroke-width="2" stroke-linejoin="round" stroke-linecap="round" shape-rendering="crispEdges"/>
<polyline points="3.5,244.4 7.5,245.2 11.5,247.3 15.5,247.6 19.5,241.3 23.5,237.8 27.5,235.7 31.5,235.6 35.5,231.7 39.5,223.7 43.5,215.6 47.5,209.7 51.5,204.4 55.5,208.5 59.5,206.5 63.5,200.8 67.5,195.7 71.5,193.3 75.5,188.3 79.5,188.7 83.5,186.6 87.5,185.0 91.5,184.6 95.5,188.7 99.5,191.0 103.5,190.6 107.5,191.6 111.5,190.9 115.5,188.1 119.5,185.3 123.5,185.3 127.5,184.3 131.5,186.9 135.5,189.5 139.5,190.3 143.5,181.4 147.5,161.2 151.5,146.9 155.5,149.1 159.5,144.4 163.5,135.9 167.5,123.0 171.5,123.5 175.5,124.6 179.5,123.2 183.5,123.4 187.5,118.6 191.5,118.3 195.5,118.3 199.5,118.0 203.5,117.7 207.5,115.0 211.5,116.5 215.5,115.6 219.5,112.7 223.5,108.6 227.5,108.9 231.5,111.2 235.5,112.2 239.5,105.6 243.5,102.2 247.5,105.2 251.5,102.7 255.5,105.5 259.5,106.5 263.5,100.8 267.5,98.4 271.5,93.6 275.5,90.3 279.5,88.4 283.5,87.7 287.5,90.2 291.5,93.1 295.5,94.6 299.5,95.9 303.5,100.3 307.5,102.8 311.5,104.1 315.5,103.6 319.5,102.8 323.5,102.6 327.5,97.3 331.5,90.6 335.5,84.6 339.5,81.5 343.5,80.7 347.5,73.2 351.5,72.7 355.5,71.6 359.5,85.0 363.5,78.4 367.5,63.8 371.5,53.8 375.5,53.1 379.5,53.3 383.5,51.6 387.5,50.7 391.5,54.0 395.5,58.0 399.5,61.6 403.5,57.8 407.5,52.5 411.5,53.3 415.5,57.3 419.5,56.3 423.5,51.9 427.5,50.8 431.5,50.3 435.5,50.9 439.5,50.0 443.5,47.6 447.5,47.1 451.5,44.7 455.5,49.0 459.5,51.7 463.5,48.0 467.5,48.2 471.5,52.6 475.5,54.8 479.5,54.3 483.5,53.8 487.5,55.4 491.5,54.0 495.5,49.9 499.5,46.6 503.5,43.0 507.5,39.6 511.5,37.8 515.5,34.8 519.5,33.6 523.5,37.8 527.5,44.1 531.5,47.8 535.5,49.8 539.5,47.2 543.5,42.7 547.5,37.3 551.5,42.7 555.5,48.7 559.5,58.7 563.5,68.9 567.5,75.9 571.5,80.0 575.5,82.4 579.5,80.8 583.5,82.0 587.5,80.9 591.5,80.2 595.5,83.7 599.5,85.5 603.5,86.8 607.5,84.8 611.5,82.2 615.5,79.2 619.5,78.4 623.5,78.5 627.5,80.1" fill="none" stroke="#008000" stroke-width="1" stroke-linejoin="round" stroke-linecap="round" shape-rendering="crispEdges"/>
<polyline points="3.0,255.4 11.4,254.3 16.0,252.6 22.9,248.6 28.6,245.7 34.3,242.9 40.0,237.7 45.7,232.0 50.0,227.1 58.6,222.1 65.7,216.4 72.9,210.0 80.0,204.3 87.1,199.3 94.3,197.1 101.4,195.7 108.6,194.3 115.7,192.1 122.9,190.7 131.4,190.0 140.0,191.0 142.9,190.7 148.6,180.7 152.9,175.0 158.6,170.0 162.9,163.6 165.7,157.1 170.0,151.4 172.9,149.3 180.0,144.3 187.1,137.1 194.3,132.1 196.0,131.5 200.3,130.1 203.9,129.0 206.0,126.9 208.9,125.4 213.9,124.4 217.4,122.6 221.0,120.8 223.9,119.4 226.0,118.6 231.7,118.3 234.6,117.2 237.4,115.4 240.3,113.3 242.4,112.6 248.6,112.1 258.6,110.0 265.7,105.7 274.3,101.4 281.4,98.6 287.1,97.4 295.7,97.9 302.9,98.6 308.6,100.7 314.3,102.1 322.9,101.1 328.6,97.9 338.6,92.1 345.7,87.1 354.3,82.1 360.0,84.6 364.3,81.4 370.0,74.3 377.1,69.3 387.1,63.6 395.7,62.9 402.9,62.1 407.1,60.0 417.1,58.6 428.6,55.7 440.0,52.9 450.0,50.7 460.0,50.7 471.4,50.7 480.0,52.1 488.6,52.1 494.3,50.7 497.1,50.0 504.3,46.4 511.4,44.3 518.6,42.6 525.7,43.1 532.9,45.0 540.0,44.6 547.1,42.9 552.9,43.6 558.6,48.6 564.3,54.3 570.0,60.0 575.7,64.3 582.9,67.9 590.7,71.4 597.9,74.3 605.0,77.7 612.1,77.7 619.3,77.1 627.1,77.1" fill="none" stroke="#0000ff" stroke-width="1" stroke-linejoin="round" stroke-linecap="round" shape-rendering="crispEdges"/>
<polyline points="3.0,249.4 11.4,248.6 15.0,248.6 19.4,245.1 22.9,241.7 30.9,238.3 35.4,235.4 39.4,229.7 45.7,219.4 50.3,214.6 56.0,213.6 59.4,211.4 64.0,206.9 68.6,201.4 75.7,194.3 82.9,190.7 90.0,187.9 94.3,188.6 100.0,190.0 105.7,190.7 111.4,190.0 115.7,187.9 121.4,186.4 127.1,186.0 131.4,187.9 135.7,190.0 140.0,190.9 142.9,189.3 146.4,180.7 149.3,170.0 150.7,164.3 154.3,160.0 158.6,156.4 161.4,151.4 162.0,150.0 166.4,138.6 168.6,135.7 175.7,131.4 184.3,127.1 191.4,122.1 196.0,121.5 200.3,120.1 203.9,120.4 206.0,118.6 212.4,118.6 216.0,117.2 219.6,114.7 222.4,112.9 224.6,112.6 230.3,112.6 236.0,112.6 238.1,109.7 240.3,107.9 242.4,106.5 248.6,106.0 258.6,106.4 262.9,102.9 270.0,97.9 277.1,93.6 282.9,91.4 287.1,92.1 291.4,94.0 298.6,95.0 304.3,98.6 310.0,101.4 314.3,102.6 318.6,101.7 325.7,100.0 331.4,93.6 338.6,86.4 345.7,80.0 354.3,75.0 359.3,82.1 364.3,77.1 368.6,68.6 372.9,63.6 380.0,58.6 387.1,54.3 392.9,57.1 398.6,59.3 402.9,58.6 405.7,55.7 412.9,55.0 418.6,55.7 425.7,52.1 435.7,50.0 442.9,48.6 450.0,45.7 454.3,47.9 460.0,50.0 467.1,48.6 474.3,52.1 480.0,53.6 488.6,52.1 494.3,50.7 497.1,48.6 504.3,43.6 511.4,40.0 518.6,37.1 524.3,39.3 528.6,43.6 535.7,45.7 541.4,43.6 547.1,40.7 551.4,42.1 555.7,47.1 560.0,55.7 564.3,64.3 570.0,71.4 575.7,75.0 582.9,77.1 586.4,78.6 593.6,79.3 599.3,82.9 605.0,84.3 609.3,82.1 613.6,80.0 619.3,79.3 627.1,79.3" fill="none" stroke="#ff0000" stroke-width="1" stroke-linejoin="round" stroke-linecap="round" shape-rendering="crispEdges"/>
<line x1="3" y1="15" x2="654" y2="15" stroke="#ff0000" stroke-width="2" shape-rendering="crispEdges" />
<line x1="3" y1="39" x2="654" y2="39" stroke="#ff0000" stroke-width="2" shape-rendering="crispEdges" />
<line x1="3" y1="90" x2="654" y2="90" stroke="#008000" stroke-width="2" shape-rendering="crispEdges" />
<line x1="3" y1="111" x2="654" y2="111" stroke="#008000" stroke-width="2" shape-rendering="crispEdges" />
<line x1="3" y1="138" x2="654" y2="138" stroke="#008000" stroke-width="2" shape-rendering="crispEdges" />
<line x1="2" y1="75.6" x2="655" y2="101.8" stroke="#ff0000" stroke-width="2" shape-rendering="crispEdges"/>
</g>
<line x1="2" y1="2.5" x2="655" y2="2.5" stroke="#000" stroke-width="1" shape-rendering="crispEdges" />
<line x1="2" y1="315.5" x2="655" y2="315.5" stroke="#000" stroke-width="1" shape-rendering="crispEdges" />
<line x1="2" y1="317.5" x2="655" y2="317.5" stroke="#000" stroke-width="1" shape-rendering="crispEdges" />
<line x1="2" y1="383.5" x2="655" y2="383.5" stroke="#000" stroke-width="1" shape-rendering="crispEdges" />
<line x1="2" y1="386.5" x2="655" y2="386.5" stroke="#000" stroke-width="1" shape-rendering="crispEdges" />
<line x1="2" y1="458.5" x2="655" y2="458.5" stroke="#000" stroke-width="1" shape-rendering="crispEdges" />
<line x1="2" y1="460.5" x2="655" y2="460.5" stroke="#000" stroke-width="1" shape-rendering="crispEdges" />
<line x1="2" y1="539.5" x2="655" y2="539.5" stroke="#000" stroke-width="1" shape-rendering="crispEdges" />
<line x1="2.5" y1="2" x2="2.5" y2="540" stroke="#000" stroke-width="1" shape-rendering="crispEdges" />
<line x1="654.5" y1="2" x2="654.5" y2="540" stroke="#000" stroke-width="1" shape-rendering="crispEdges" />
<line x1="653" y1="15" x2="656" y2="15" stroke="#ff0000" stroke-width="2" shape-rendering="crispEdges" />
<line x1="653" y1="39" x2="656" y2="39" stroke="#ff0000" stroke-width="2" shape-rendering="crispEdges" />
<line x1="653" y1="90" x2="656" y2="90" stroke="#008000" stroke-width="2" shape-rendering="crispEdges" />
<line x1="653" y1="111" x2="656" y2="111" stroke="#008000" stroke-width="2" shape-rendering="crispEdges" />
<line x1="653" y1="138" x2="656" y2="138" stroke="#008000" stroke-width="2" shape-rendering="crispEdges" />
<path d="M6,9.5 L13,9.5 L9.5,13.2 Z" fill="#000"/>
<text x="18.2" y="13.6" fill="#000" stroke="#000" stroke-width="0.2" font-size="10" textLength="54.8" lengthAdjust="spacingAndGlyphs" text-anchor="start" >USDCHF.H1</text>
<text x="79.5" y="13.6" fill="#000" stroke="#000" stroke-width="0.2" font-size="10" textLength="31.9" lengthAdjust="spacingAndGlyphs" text-anchor="start" >0.97585</text>
<text x="115.5" y="13.6" fill="#000" stroke="#000" stroke-width="0.2" font-size="10" textLength="31.9" lengthAdjust="spacingAndGlyphs" text-anchor="start" >0.97590</text>
<text x="151.5" y="13.6" fill="#000" stroke="#000" stroke-width="0.2" font-size="10" textLength="31.9" lengthAdjust="spacingAndGlyphs" text-anchor="start" >0.97531</text>
<text x="187.5" y="13.6" fill="#000" stroke="#000" stroke-width="0.2" font-size="10" textLength="31.9" lengthAdjust="spacingAndGlyphs" text-anchor="start" >0.97555</text>
<line x1="655" y1="48.5" x2="657" y2="48.5" stroke="#000" stroke-width="1" shape-rendering="crispEdges" />
<text x="660.5" y="52.199999999999996" fill="#000" stroke="#000" stroke-width="0.2" font-size="10" textLength="32.4" lengthAdjust="spacingAndGlyphs" text-anchor="start" >0.97750</text>
<line x1="655" y1="114.5" x2="657" y2="114.5" stroke="#000" stroke-width="1" shape-rendering="crispEdges" />
<text x="660.5" y="118.39999999999999" fill="#000" stroke="#000" stroke-width="0.2" font-size="10" textLength="32.4" lengthAdjust="spacingAndGlyphs" text-anchor="start" >0.97365</text>
<line x1="655" y1="147.5" x2="657" y2="147.5" stroke="#000" stroke-width="1" shape-rendering="crispEdges" />
<text x="660.5" y="151.20000000000002" fill="#000" stroke="#000" stroke-width="0.2" font-size="10" textLength="32.4" lengthAdjust="spacingAndGlyphs" text-anchor="start" >0.97175</text>
<line x1="655" y1="180.5" x2="657" y2="180.5" stroke="#000" stroke-width="1" shape-rendering="crispEdges" />
<text x="660.5" y="184.20000000000002" fill="#000" stroke="#000" stroke-width="0.2" font-size="10" textLength="32.4" lengthAdjust="spacingAndGlyphs" text-anchor="start" >0.96980</text>
<line x1="655" y1="213.5" x2="657" y2="213.5" stroke="#000" stroke-width="1" shape-rendering="crispEdges" />
<text x="660.5" y="217.20000000000002" fill="#000" stroke="#000" stroke-width="0.2" font-size="10" textLength="32.4" lengthAdjust="spacingAndGlyphs" text-anchor="start" >0.96790</text>
<line x1="655" y1="246.5" x2="657" y2="246.5" stroke="#000" stroke-width="1" shape-rendering="crispEdges" />
<text x="660.5" y="250.20000000000002" fill="#000" stroke="#000" stroke-width="0.2" font-size="10" textLength="32.4" lengthAdjust="spacingAndGlyphs" text-anchor="start" >0.96600</text>
<line x1="655" y1="279.5" x2="657" y2="279.5" stroke="#000" stroke-width="1" shape-rendering="crispEdges" />
<text x="660.5" y="283.2" fill="#000" stroke="#000" stroke-width="0.2" font-size="10" textLength="32.4" lengthAdjust="spacingAndGlyphs" text-anchor="start" >0.96405</text>
<line x1="655" y1="312.5" x2="657" y2="312.5" stroke="#000" stroke-width="1" shape-rendering="crispEdges" />
<text x="660.5" y="315.8" fill="#000" stroke="#000" stroke-width="0.2" font-size="10" textLength="32.4" lengthAdjust="spacingAndGlyphs" text-anchor="start" >0.96215</text>
<rect x="656" y="77.0" width="41" height="11" fill="#000" shape-rendering="crispEdges"/>
<text x="660.5" y="86.1" fill="#fff" stroke="#fff" stroke-width="0.2" font-size="10" textLength="32" lengthAdjust="spacingAndGlyphs" text-anchor="start" >0.97555</text>
<rect x="656" y="9.3" width="41" height="11" fill="#ff0000" shape-rendering="crispEdges"/>
<text x="660.5" y="18.400000000000002" fill="#fff" stroke="#fff" stroke-width="0.2" font-size="10" textLength="32" lengthAdjust="spacingAndGlyphs" text-anchor="start" >0.97942</text>
<rect x="656" y="33.3" width="41" height="11" fill="#ff0000" shape-rendering="crispEdges"/>
<text x="660.5" y="42.4" fill="#fff" stroke="#fff" stroke-width="0.2" font-size="10" textLength="32" lengthAdjust="spacingAndGlyphs" text-anchor="start" >0.97806</text>
<rect x="656" y="84.1" width="41" height="11" fill="#008000" shape-rendering="crispEdges"/>
<text x="660.5" y="93.19999999999999" fill="#fff" stroke="#fff" stroke-width="0.2" font-size="10" textLength="32" lengthAdjust="spacingAndGlyphs" text-anchor="start" >0.97509</text>
<rect x="656" y="105.0" width="41" height="11" fill="#008000" shape-rendering="crispEdges"/>
<text x="660.5" y="114.1" fill="#fff" stroke="#fff" stroke-width="0.2" font-size="10" textLength="32" lengthAdjust="spacingAndGlyphs" text-anchor="start" >0.97384</text>
<rect x="656" y="132.0" width="41" height="11" fill="#008000" shape-rendering="crispEdges"/>
<text x="660.5" y="141.1" fill="#fff" stroke="#fff" stroke-width="0.2" font-size="10" textLength="32" lengthAdjust="spacingAndGlyphs" text-anchor="start" >0.97230</text>
<g clip-path="url(#c2)">
<line x1="3" y1="338.5" x2="654" y2="338.5" stroke="#c0c0c0" stroke-width="1" shape-rendering="crispEdges" stroke-dasharray="3,3"/>
<line x1="3" y1="364.5" x2="654" y2="364.5" stroke="#c0c0c0" stroke-width="1" shape-rendering="crispEdges" stroke-dasharray="3,3"/>
<polyline points="2.5,350.0 10.0,350.5 13.8,351.2 18.8,347.5 26.2,348.0 31.2,349.5 36.2,346.2 42.5,342.0 51.2,341.5 56.2,345.0 62.5,341.2 75.0,339.5 80.0,342.0 83.8,340.5 91.2,342.0 96.2,344.5 102.5,345.0 106.2,343.8 111.2,345.0 117.5,342.5 125.0,343.8 130.0,348.0 133.8,346.2 139.5,350.5 145.0,343.8 148.8,337.5 152.5,338.0 156.2,342.5 162.5,340.0 166.2,338.8 171.2,342.0 175.0,343.2 185.0,341.2 190.0,341.2 202.5,343.0 207.5,342.0 211.2,344.2 216.2,343.2 221.2,341.2 225.0,341.2 230.0,343.8 235.0,344.2 238.8,341.2 242.5,341.2 247.0,346.8 250.0,343.8 252.5,344.2 256.2,346.8 260.0,346.2 263.8,343.2 270.0,343.0 277.5,342.0 282.5,342.5 286.2,345.0 290.0,346.2 301.2,346.8 303.8,349.2 312.5,349.5 317.5,348.0 322.5,347.5 327.5,343.0 332.5,341.2 340.0,340.8 343.8,342.0 347.5,338.8 351.2,341.2 355.0,341.8 359.5,352.5 363.8,344.5 367.5,340.8 372.5,341.8 377.5,343.8 385.0,343.2 390.0,343.2 392.5,346.2 398.8,348.2 403.8,345.0 407.5,344.5 415.0,348.2 420.0,346.2 427.5,345.5 432.5,347.5 437.5,346.2 445.0,345.5 450.0,344.2 453.8,347.5 456.2,349.5 460.0,348.8 463.8,346.2 468.8,347.5 472.5,350.0 476.2,350.5 481.2,348.8 485.0,348.8 488.8,350.5 493.8,347.5 500.0,346.2 507.5,345.0 510.0,344.9 516.8,343.0 520.9,344.9 526.3,350.3 531.7,351.6 539.9,348.1 546.6,345.4 550.7,349.7 556.1,353.0 561.6,357.9 568.4,360.3 575.1,360.3 580.6,357.1 584.6,357.9 588.7,356.5 592.8,357.1 596.9,359.2 603.6,359.2 609.1,355.7 614.5,354.4 624.0,354.4 626.7,355.7" fill="none" stroke="#1e90ff" stroke-width="1" stroke-linejoin="round" stroke-linecap="round" shape-rendering="crispEdges"/>
<polyline points="2.5,353.0 25.0,349.5 50.0,346.2 75.0,342.5 87.5,341.8 112.5,343.8 137.5,345.0 150.0,343.2 170.0,342.0 195.0,341.8 220.0,342.0 235.0,342.5 245.0,343.2 257.5,344.2 270.0,343.2 285.0,343.0 295.0,344.5 307.5,345.8 320.0,346.8 323.8,347.0 332.5,345.5 340.0,344.5 350.0,343.2 365.0,344.2 380.0,343.8 390.0,343.2 400.0,345.5 415.0,345.5 430.0,346.2 440.0,346.2 450.0,345.0 460.0,346.2 470.0,347.0 480.0,348.2 490.0,348.2 500.0,347.5 510.0,347.0 520.9,345.7 531.7,348.1 548.0,346.8 558.9,349.7 575.1,354.4 591.4,355.7 603.6,357.6 613.1,355.7 626.7,356.3" fill="none" stroke="#ff0000" stroke-width="1" stroke-linejoin="round" stroke-linecap="round" shape-rendering="crispEdges"/>
</g>
<text x="7.5" y="330" fill="#000" stroke="#000" stroke-width="0.2" font-size="10" textLength="150.5" lengthAdjust="spacingAndGlyphs" text-anchor="start" >RSI(18) 42.3600&#160;&#160;-&gt;MA(14) 42.8809</text>
<line x1="655" y1="325.5" x2="657" y2="325.5" stroke="#000" stroke-width="1" shape-rendering="crispEdges" />
<text x="658.5" y="328.6" fill="#000" stroke="#000" stroke-width="0.2" font-size="10" textLength="14.6" lengthAdjust="spacingAndGlyphs" text-anchor="start" >100</text>
<line x1="655" y1="339.5" x2="657" y2="339.5" stroke="#000" stroke-width="1" shape-rendering="crispEdges" />
<text x="658.5" y="342.40000000000003" fill="#000" stroke="#000" stroke-width="0.2" font-size="10" textLength="9.6" lengthAdjust="spacingAndGlyphs" text-anchor="start" >70</text>
<line x1="655" y1="365.5" x2="657" y2="365.5" stroke="#000" stroke-width="1" shape-rendering="crispEdges" />
<text x="658.5" y="368.20000000000005" fill="#000" stroke="#000" stroke-width="0.2" font-size="10" textLength="9.6" lengthAdjust="spacingAndGlyphs" text-anchor="start" >30</text>
<line x1="655" y1="378.5" x2="657" y2="378.5" stroke="#000" stroke-width="1" shape-rendering="crispEdges" />
<text x="658.5" y="381.6" fill="#000" stroke="#000" stroke-width="0.2" font-size="10" textLength="4.6" lengthAdjust="spacingAndGlyphs" text-anchor="start" >0</text>
<g clip-path="url(#c3)">
<line x1="3" y1="401.5" x2="654" y2="401.5" stroke="#c0c0c0" stroke-width="1" shape-rendering="crispEdges" stroke-dasharray="3,3"/>
<line x1="3" y1="443.5" x2="654" y2="443.5" stroke="#c0c0c0" stroke-width="1" shape-rendering="crispEdges" stroke-dasharray="3,3"/>
<polyline points="3.0,415.0 7.5,413.0 12.5,419.2 16.2,420.5 21.2,415.5 26.2,405.5 31.2,401.8 36.2,403.5 41.2,405.0 46.2,401.8 51.2,401.0 56.2,408.0 61.2,416.8 65.0,418.0 70.0,411.8 75.0,403.0 80.0,401.0 85.0,408.0 90.0,413.0 95.0,419.2 100.0,428.0 105.0,436.8 110.0,439.2 113.8,434.2 118.8,420.5 123.8,409.2 127.5,405.5 132.5,413.0 137.5,425.5 141.2,431.8 146.2,425.5 151.2,406.8 156.2,398.0 161.2,396.8 166.2,400.5 170.0,401.8 175.0,406.8 180.0,415.5 185.0,422.5 190.0,423.0 195.0,416.8 200.0,411.8 205.0,414.2 208.8,418.0 212.5,424.2 216.2,426.8 220.0,428.0 223.8,419.2 227.5,410.5 231.2,411.0 235.0,418.0 238.8,421.8 242.5,415.5 246.2,409.2 251.2,408.0 256.2,413.0 261.2,415.0 266.2,411.8 271.2,409.2 276.2,406.8 281.2,403.0 286.2,401.8 290.0,409.2 293.8,426.8 297.5,439.2 301.2,447.5 306.2,448.0 311.2,446.8 316.2,443.0 321.2,434.2 326.2,420.5 331.2,406.8 335.0,399.2 340.0,396.0 345.0,401.8 350.0,406.8 355.0,408.0 360.0,416.8 365.0,421.8 370.0,414.2 375.0,403.0 380.0,398.5 385.0,400.5 390.0,406.8 395.0,420.5 400.0,433.0 403.8,435.5 408.8,430.5 413.8,421.8 418.8,425.5 423.8,429.2 428.8,425.5 435.0,422.5 440.0,423.0 445.0,421.8 450.0,416.8 453.8,414.2 458.8,418.0 463.8,421.8 467.5,421.8 472.5,420.0 477.5,424.2 482.5,429.2 487.5,427.5 492.5,418.0 497.5,406.8 502.5,397.5 508.8,393.5 515.0,395.0 518.1,396.6 522.2,404.7 526.3,416.9 530.4,431.9 534.4,440.0 538.5,435.9 543.9,425.1 549.4,411.5 553.4,411.5 557.5,421.0 561.6,435.9 565.6,445.4 571.1,450.3 576.5,450.9 581.9,444.1 587.4,429.1 591.4,416.9 596.3,411.5 600.9,418.3 605.0,427.8 609.1,427.8 614.5,418.3 619.9,407.4 624.0,404.7 627.3,411.5" fill="none" stroke="#ff0000" stroke-width="1" stroke-linejoin="round" stroke-linecap="butt" stroke-dasharray="3,3" shape-rendering="crispEdges"/>
<polyline points="3.0,414.2 7.5,411.8 11.2,421.8 15.5,424.2 20.0,410.5 25.0,399.2 31.2,406.0 35.0,407.5 40.0,405.5 45.0,398.5 50.0,401.8 53.8,411.8 60.0,420.5 63.8,418.0 68.8,406.8 75.0,398.0 80.0,406.8 85.0,414.2 88.8,417.5 92.5,416.8 97.5,433.0 103.8,445.5 107.5,436.8 111.8,436.8 117.5,408.0 122.5,402.5 126.2,406.0 131.2,426.8 135.0,428.0 139.2,443.0 145.0,415.5 151.2,393.5 156.2,396.8 163.8,402.5 167.5,399.2 170.0,403.0 175.0,414.2 180.0,424.2 183.8,426.0 188.8,420.5 195.0,410.0 198.8,410.0 203.8,422.5 207.5,419.2 211.8,432.5 216.2,426.8 220.0,425.5 223.8,405.5 227.5,406.0 231.2,418.0 235.5,427.5 240.0,414.2 243.8,404.2 248.8,406.8 255.5,418.5 260.0,414.2 263.8,413.5 271.2,406.0 275.0,407.2 280.0,400.0 283.8,400.0 287.5,409.2 291.2,429.2 295.0,444.2 298.8,448.5 302.5,450.5 307.5,446.8 312.5,444.2 317.5,436.8 322.5,425.5 327.5,408.0 331.2,396.8 335.0,392.5 338.8,396.8 340.0,398.0 343.8,405.0 350.0,408.0 355.0,409.2 359.5,430.0 365.0,420.5 372.0,396.0 376.2,396.8 381.2,401.0 387.5,407.5 392.5,420.5 399.2,443.5 405.5,425.5 411.2,415.5 415.0,424.2 419.5,434.2 427.5,421.8 431.2,421.8 438.8,425.5 445.0,418.0 451.2,409.2 455.0,418.0 459.5,426.0 463.8,424.2 467.5,417.5 471.2,418.5 475.0,425.5 479.5,433.5 483.8,428.0 488.8,420.5 493.8,408.0 500.0,393.5 505.0,393.5 510.0,395.2 516.8,395.8 520.9,402.0 523.6,415.6 527.6,438.6 531.7,443.3 535.8,437.3 541.2,419.6 547.5,402.5 552.1,414.2 556.1,429.1 560.2,446.0 565.6,450.3 571.9,452.2 576.5,448.1 581.9,433.2 586.0,414.2 591.4,409.6 595.5,412.9 599.6,423.7 603.6,436.7 609.1,423.7 613.1,411.5 616.4,401.5 619.9,402.5 624.0,410.1 627.3,421.0" fill="none" stroke="#20b2aa" stroke-width="1" stroke-linejoin="round" stroke-linecap="round" shape-rendering="crispEdges"/>
</g>
<text x="7.5" y="399" fill="#000" stroke="#000" stroke-width="0.2" font-size="10" textLength="121.5" lengthAdjust="spacingAndGlyphs" text-anchor="start" >Stoch(5,3,3) 51.3228 66.6467</text>
<line x1="655" y1="394.5" x2="657" y2="394.5" stroke="#000" stroke-width="1" shape-rendering="crispEdges" />
<text x="658.5" y="397.5" fill="#000" stroke="#000" stroke-width="0.2" font-size="10" textLength="14.6" lengthAdjust="spacingAndGlyphs" text-anchor="start" >100</text>
<line x1="655" y1="402.5" x2="657" y2="402.5" stroke="#000" stroke-width="1" shape-rendering="crispEdges" />
<text x="658.5" y="405.6" fill="#000" stroke="#000" stroke-width="0.2" font-size="10" textLength="9.6" lengthAdjust="spacingAndGlyphs" text-anchor="start" >80</text>
<line x1="655" y1="444.5" x2="657" y2="444.5" stroke="#000" stroke-width="1" shape-rendering="crispEdges" />
<text x="658.5" y="447.1" fill="#000" stroke="#000" stroke-width="0.2" font-size="10" textLength="9.6" lengthAdjust="spacingAndGlyphs" text-anchor="start" >20</text>
<line x1="655" y1="451.5" x2="657" y2="451.5" stroke="#000" stroke-width="1" shape-rendering="crispEdges" />
<text x="658.5" y="455.0" fill="#000" stroke="#000" stroke-width="0.2" font-size="10" textLength="4.6" lengthAdjust="spacingAndGlyphs" text-anchor="start" >0</text>
<g clip-path="url(#c4)">
<line x1="3.5" y1="511.25" x2="3.5" y2="513.5" stroke="#c0c0c0" stroke-width="1" shape-rendering="crispEdges" />
<line x1="7.5" y1="510.0" x2="7.5" y2="513.5" stroke="#c0c0c0" stroke-width="1" shape-rendering="crispEdges" />
<line x1="11.5" y1="509.5" x2="11.5" y2="513.5" stroke="#c0c0c0" stroke-width="1" shape-rendering="crispEdges" />
<line x1="15.5" y1="508.75" x2="15.5" y2="513.5" stroke="#c0c0c0" stroke-width="1" shape-rendering="crispEdges" />
<line x1="19.5" y1="506.25" x2="19.5" y2="513.5" stroke="#c0c0c0" stroke-width="1" shape-rendering="crispEdges" />
<line x1="23.5" y1="503.75" x2="23.5" y2="513.5" stroke="#c0c0c0" stroke-width="1" shape-rendering="crispEdges" />
<line x1="27.5" y1="502.0" x2="27.5" y2="513.5" stroke="#c0c0c0" stroke-width="1" shape-rendering="crispEdges" />
<line x1="31.5" y1="501.25" x2="31.5" y2="513.5" stroke="#c0c0c0" stroke-width="1" shape-rendering="crispEdges" />
<line x1="35.5" y1="500.0" x2="35.5" y2="513.5" stroke="#c0c0c0" stroke-width="1" shape-rendering="crispEdges" />
<line x1="39.5" y1="496.25" x2="39.5" y2="513.5" stroke="#c0c0c0" stroke-width="1" shape-rendering="crispEdges" />
<line x1="43.5" y1="492.5" x2="43.5" y2="513.5" stroke="#c0c0c0" stroke-width="1" shape-rendering="crispEdges" />
<line x1="47.5" y1="488.75" x2="47.5" y2="513.5" stroke="#c0c0c0" stroke-width="1" shape-rendering="crispEdges" />
<line x1="51.5" y1="487.0" x2="51.5" y2="513.5" stroke="#c0c0c0" stroke-width="1" shape-rendering="crispEdges" />
<line x1="55.5" y1="486.75" x2="55.5" y2="513.5" stroke="#c0c0c0" stroke-width="1" shape-rendering="crispEdges" />
<line x1="59.5" y1="485.5" x2="59.5" y2="513.5" stroke="#c0c0c0" stroke-width="1" shape-rendering="crispEdges" />
<line x1="63.5" y1="484.25" x2="63.5" y2="513.5" stroke="#c0c0c0" stroke-width="1" shape-rendering="crispEdges" />
<line x1="67.5" y1="481.25" x2="67.5" y2="513.5" stroke="#c0c0c0" stroke-width="1" shape-rendering="crispEdges" />
<line x1="71.5" y1="479.5" x2="71.5" y2="513.5" stroke="#c0c0c0" stroke-width="1" shape-rendering="crispEdges" />
<line x1="75.5" y1="478.0" x2="75.5" y2="513.5" stroke="#c0c0c0" stroke-width="1" shape-rendering="crispEdges" />
<line x1="79.5" y1="478.0" x2="79.5" y2="513.5" stroke="#c0c0c0" stroke-width="1" shape-rendering="crispEdges" />
<line x1="83.5" y1="478.0" x2="83.5" y2="513.5" stroke="#c0c0c0" stroke-width="1" shape-rendering="crispEdges" />
<line x1="87.5" y1="478.0" x2="87.5" y2="513.5" stroke="#c0c0c0" stroke-width="1" shape-rendering="crispEdges" />
<line x1="91.5" y1="478.75" x2="91.5" y2="513.5" stroke="#c0c0c0" stroke-width="1" shape-rendering="crispEdges" />
<line x1="95.5" y1="480.0" x2="95.5" y2="513.5" stroke="#c0c0c0" stroke-width="1" shape-rendering="crispEdges" />
<line x1="99.5" y1="483.0" x2="99.5" y2="513.5" stroke="#c0c0c0" stroke-width="1" shape-rendering="crispEdges" />
<line x1="103.5" y1="485.5" x2="103.5" y2="513.5" stroke="#c0c0c0" stroke-width="1" shape-rendering="crispEdges" />
<line x1="107.5" y1="487.5" x2="107.5" y2="513.5" stroke="#c0c0c0" stroke-width="1" shape-rendering="crispEdges" />
<line x1="111.5" y1="488.75" x2="111.5" y2="513.5" stroke="#c0c0c0" stroke-width="1" shape-rendering="crispEdges" />
<line x1="115.5" y1="488.75" x2="115.5" y2="513.5" stroke="#c0c0c0" stroke-width="1" shape-rendering="crispEdges" />
<line x1="119.5" y1="488.75" x2="119.5" y2="513.5" stroke="#c0c0c0" stroke-width="1" shape-rendering="crispEdges" />
<line x1="123.5" y1="490.0" x2="123.5" y2="513.5" stroke="#c0c0c0" stroke-width="1" shape-rendering="crispEdges" />
<line x1="127.5" y1="491.25" x2="127.5" y2="513.5" stroke="#c0c0c0" stroke-width="1" shape-rendering="crispEdges" />
<line x1="131.5" y1="493.75" x2="131.5" y2="513.5" stroke="#c0c0c0" stroke-width="1" shape-rendering="crispEdges" />
<line x1="135.5" y1="495.5" x2="135.5" y2="513.5" stroke="#c0c0c0" stroke-width="1" shape-rendering="crispEdges" />
<line x1="139.5" y1="498.0" x2="139.5" y2="513.5" stroke="#c0c0c0" stroke-width="1" shape-rendering="crispEdges" />
<line x1="143.5" y1="497.5" x2="143.5" y2="513.5" stroke="#c0c0c0" stroke-width="1" shape-rendering="crispEdges" />
<line x1="147.5" y1="490.0" x2="147.5" y2="513.5" stroke="#c0c0c0" stroke-width="1" shape-rendering="crispEdges" />
<line x1="151.5" y1="482.0" x2="151.5" y2="513.5" stroke="#c0c0c0" stroke-width="1" shape-rendering="crispEdges" />
<line x1="155.5" y1="480.0" x2="155.5" y2="513.5" stroke="#c0c0c0" stroke-width="1" shape-rendering="crispEdges" />
<line x1="159.5" y1="478.0" x2="159.5" y2="513.5" stroke="#c0c0c0" stroke-width="1" shape-rendering="crispEdges" />
<line x1="163.5" y1="474.5" x2="163.5" y2="513.5" stroke="#c0c0c0" stroke-width="1" shape-rendering="crispEdges" />
<line x1="167.5" y1="468.0" x2="167.5" y2="513.5" stroke="#c0c0c0" stroke-width="1" shape-rendering="crispEdges" />
<line x1="171.5" y1="467.0" x2="171.5" y2="513.5" stroke="#c0c0c0" stroke-width="1" shape-rendering="crispEdges" />
<line x1="175.5" y1="466.75" x2="175.5" y2="513.5" stroke="#c0c0c0" stroke-width="1" shape-rendering="crispEdges" />
<line x1="179.5" y1="466.75" x2="179.5" y2="513.5" stroke="#c0c0c0" stroke-width="1" shape-rendering="crispEdges" />
<line x1="183.5" y1="466.25" x2="183.5" y2="513.5" stroke="#c0c0c0" stroke-width="1" shape-rendering="crispEdges" />
<line x1="187.5" y1="465.75" x2="187.5" y2="513.5" stroke="#c0c0c0" stroke-width="1" shape-rendering="crispEdges" />
<line x1="191.5" y1="466.25" x2="191.5" y2="513.5" stroke="#c0c0c0" stroke-width="1" shape-rendering="crispEdges" />
<line x1="195.5" y1="467.5" x2="195.5" y2="513.5" stroke="#c0c0c0" stroke-width="1" shape-rendering="crispEdges" />
<line x1="199.5" y1="468.75" x2="199.5" y2="513.5" stroke="#c0c0c0" stroke-width="1" shape-rendering="crispEdges" />
<line x1="203.5" y1="470.5" x2="203.5" y2="513.5" stroke="#c0c0c0" stroke-width="1" shape-rendering="crispEdges" />
<line x1="207.5" y1="472.0" x2="207.5" y2="513.5" stroke="#c0c0c0" stroke-width="1" shape-rendering="crispEdges" />
<line x1="211.5" y1="473.75" x2="211.5" y2="513.5" stroke="#c0c0c0" stroke-width="1" shape-rendering="crispEdges" />
<line x1="215.5" y1="475.75" x2="215.5" y2="513.5" stroke="#c0c0c0" stroke-width="1" shape-rendering="crispEdges" />
<line x1="219.5" y1="476.25" x2="219.5" y2="513.5" stroke="#c0c0c0" stroke-width="1" shape-rendering="crispEdges" />
<line x1="223.5" y1="477.0" x2="223.5" y2="513.5" stroke="#c0c0c0" stroke-width="1" shape-rendering="crispEdges" />
<line x1="227.5" y1="478.0" x2="227.5" y2="513.5" stroke="#c0c0c0" stroke-width="1" shape-rendering="crispEdges" />
<line x1="231.5" y1="479.5" x2="231.5" y2="513.5" stroke="#c0c0c0" stroke-width="1" shape-rendering="crispEdges" />
<line x1="235.5" y1="481.25" x2="235.5" y2="513.5" stroke="#c0c0c0" stroke-width="1" shape-rendering="crispEdges" />
<line x1="239.5" y1="481.25" x2="239.5" y2="513.5" stroke="#c0c0c0" stroke-width="1" shape-rendering="crispEdges" />
<line x1="243.5" y1="481.75" x2="243.5" y2="513.5" stroke="#c0c0c0" stroke-width="1" shape-rendering="crispEdges" />
<line x1="247.5" y1="483.75" x2="247.5" y2="513.5" stroke="#c0c0c0" stroke-width="1" shape-rendering="crispEdges" />
<line x1="251.5" y1="484.5" x2="251.5" y2="513.5" stroke="#c0c0c0" stroke-width="1" shape-rendering="crispEdges" />
<line x1="255.5" y1="487.0" x2="255.5" y2="513.5" stroke="#c0c0c0" stroke-width="1" shape-rendering="crispEdges" />
<line x1="259.5" y1="488.0" x2="259.5" y2="513.5" stroke="#c0c0c0" stroke-width="1" shape-rendering="crispEdges" />
<line x1="263.5" y1="487.5" x2="263.5" y2="513.5" stroke="#c0c0c0" stroke-width="1" shape-rendering="crispEdges" />
<line x1="267.5" y1="486.75" x2="267.5" y2="513.5" stroke="#c0c0c0" stroke-width="1" shape-rendering="crispEdges" />
<line x1="271.5" y1="486.75" x2="271.5" y2="513.5" stroke="#c0c0c0" stroke-width="1" shape-rendering="crispEdges" />
<line x1="275.5" y1="486.75" x2="275.5" y2="513.5" stroke="#c0c0c0" stroke-width="1" shape-rendering="crispEdges" />
<line x1="279.5" y1="486.25" x2="279.5" y2="513.5" stroke="#c0c0c0" stroke-width="1" shape-rendering="crispEdges" />
<line x1="283.5" y1="486.25" x2="283.5" y2="513.5" stroke="#c0c0c0" stroke-width="1" shape-rendering="crispEdges" />
<line x1="287.5" y1="487.5" x2="287.5" y2="513.5" stroke="#c0c0c0" stroke-width="1" shape-rendering="crispEdges" />
<line x1="291.5" y1="490.0" x2="291.5" y2="513.5" stroke="#c0c0c0" stroke-width="1" shape-rendering="crispEdges" />
<line x1="295.5" y1="493.0" x2="295.5" y2="513.5" stroke="#c0c0c0" stroke-width="1" shape-rendering="crispEdges" />
<line x1="299.5" y1="494.5" x2="299.5" y2="513.5" stroke="#c0c0c0" stroke-width="1" shape-rendering="crispEdges" />
<line x1="303.5" y1="498.0" x2="303.5" y2="513.5" stroke="#c0c0c0" stroke-width="1" shape-rendering="crispEdges" />
<line x1="307.5" y1="500.0" x2="307.5" y2="513.5" stroke="#c0c0c0" stroke-width="1" shape-rendering="crispEdges" />
<line x1="311.5" y1="502.5" x2="311.5" y2="513.5" stroke="#c0c0c0" stroke-width="1" shape-rendering="crispEdges" />
<line x1="315.5" y1="503.75" x2="315.5" y2="513.5" stroke="#c0c0c0" stroke-width="1" shape-rendering="crispEdges" />
<line x1="319.5" y1="504.25" x2="319.5" y2="513.5" stroke="#c0c0c0" stroke-width="1" shape-rendering="crispEdges" />
<line x1="323.5" y1="504.5" x2="323.5" y2="513.5" stroke="#c0c0c0" stroke-width="1" shape-rendering="crispEdges" />
<line x1="327.5" y1="503.75" x2="327.5" y2="513.5" stroke="#c0c0c0" stroke-width="1" shape-rendering="crispEdges" />
<line x1="331.5" y1="500.0" x2="331.5" y2="513.5" stroke="#c0c0c0" stroke-width="1" shape-rendering="crispEdges" />
<line x1="335.5" y1="498.0" x2="335.5" y2="513.5" stroke="#c0c0c0" stroke-width="1" shape-rendering="crispEdges" />
<line x1="339.5" y1="496.25" x2="339.5" y2="513.5" stroke="#c0c0c0" stroke-width="1" shape-rendering="crispEdges" />
<line x1="343.5" y1="495.5" x2="343.5" y2="513.5" stroke="#c0c0c0" stroke-width="1" shape-rendering="crispEdges" />
<line x1="347.5" y1="493.0" x2="347.5" y2="513.5" stroke="#c0c0c0" stroke-width="1" shape-rendering="crispEdges" />
<line x1="351.5" y1="493.0" x2="351.5" y2="513.5" stroke="#c0c0c0" stroke-width="1" shape-rendering="crispEdges" />
<line x1="355.5" y1="492.0" x2="355.5" y2="513.5" stroke="#c0c0c0" stroke-width="1" shape-rendering="crispEdges" />
<line x1="359.5" y1="495.5" x2="359.5" y2="513.5" stroke="#c0c0c0" stroke-width="1" shape-rendering="crispEdges" />
<line x1="363.5" y1="495.0" x2="363.5" y2="513.5" stroke="#c0c0c0" stroke-width="1" shape-rendering="crispEdges" />
<line x1="367.5" y1="490.5" x2="367.5" y2="513.5" stroke="#c0c0c0" stroke-width="1" shape-rendering="crispEdges" />
<line x1="371.5" y1="487.5" x2="371.5" y2="513.5" stroke="#c0c0c0" stroke-width="1" shape-rendering="crispEdges" />
<line x1="375.5" y1="485.75" x2="375.5" y2="513.5" stroke="#c0c0c0" stroke-width="1" shape-rendering="crispEdges" />
<line x1="379.5" y1="485.75" x2="379.5" y2="513.5" stroke="#c0c0c0" stroke-width="1" shape-rendering="crispEdges" />
<line x1="383.5" y1="485.0" x2="383.5" y2="513.5" stroke="#c0c0c0" stroke-width="1" shape-rendering="crispEdges" />
<line x1="387.5" y1="483.75" x2="387.5" y2="513.5" stroke="#c0c0c0" stroke-width="1" shape-rendering="crispEdges" />
<line x1="391.5" y1="485.75" x2="391.5" y2="513.5" stroke="#c0c0c0" stroke-width="1" shape-rendering="crispEdges" />
<line x1="395.5" y1="488.0" x2="395.5" y2="513.5" stroke="#c0c0c0" stroke-width="1" shape-rendering="crispEdges" />
<line x1="399.5" y1="492.0" x2="399.5" y2="513.5" stroke="#c0c0c0" stroke-width="1" shape-rendering="crispEdges" />
<line x1="403.5" y1="492.0" x2="403.5" y2="513.5" stroke="#c0c0c0" stroke-width="1" shape-rendering="crispEdges" />
<line x1="407.5" y1="490.75" x2="407.5" y2="513.5" stroke="#c0c0c0" stroke-width="1" shape-rendering="crispEdges" />
<line x1="411.5" y1="492.0" x2="411.5" y2="513.5" stroke="#c0c0c0" stroke-width="1" shape-rendering="crispEdges" />
<line x1="415.5" y1="493.75" x2="415.5" y2="513.5" stroke="#c0c0c0" stroke-width="1" shape-rendering="crispEdges" />
<line x1="419.5" y1="495.0" x2="419.5" y2="513.5" stroke="#c0c0c0" stroke-width="1" shape-rendering="crispEdges" />
<line x1="423.5" y1="493.75" x2="423.5" y2="513.5" stroke="#c0c0c0" stroke-width="1" shape-rendering="crispEdges" />
<line x1="427.5" y1="494.25" x2="427.5" y2="513.5" stroke="#c0c0c0" stroke-width="1" shape-rendering="crispEdges" />
<line x1="431.5" y1="495.5" x2="431.5" y2="513.5" stroke="#c0c0c0" stroke-width="1" shape-rendering="crispEdges" />
<line x1="435.5" y1="496.25" x2="435.5" y2="513.5" stroke="#c0c0c0" stroke-width="1" shape-rendering="crispEdges" />
<line x1="439.5" y1="495.75" x2="439.5" y2="513.5" stroke="#c0c0c0" stroke-width="1" shape-rendering="crispEdges" />
<line x1="443.5" y1="495.75" x2="443.5" y2="513.5" stroke="#c0c0c0" stroke-width="1" shape-rendering="crispEdges" />
<line x1="447.5" y1="496.25" x2="447.5" y2="513.5" stroke="#c0c0c0" stroke-width="1" shape-rendering="crispEdges" />
<line x1="451.5" y1="495.5" x2="451.5" y2="513.5" stroke="#c0c0c0" stroke-width="1" shape-rendering="crispEdges" />
<line x1="455.5" y1="497.0" x2="455.5" y2="513.5" stroke="#c0c0c0" stroke-width="1" shape-rendering="crispEdges" />
<line x1="459.5" y1="501.25" x2="459.5" y2="513.5" stroke="#c0c0c0" stroke-width="1" shape-rendering="crispEdges" />
<line x1="463.5" y1="500.0" x2="463.5" y2="513.5" stroke="#c0c0c0" stroke-width="1" shape-rendering="crispEdges" />
<line x1="467.5" y1="501.25" x2="467.5" y2="513.5" stroke="#c0c0c0" stroke-width="1" shape-rendering="crispEdges" />
<line x1="471.5" y1="503.75" x2="471.5" y2="513.5" stroke="#c0c0c0" stroke-width="1" shape-rendering="crispEdges" />
<line x1="475.5" y1="506.25" x2="475.5" y2="513.5" stroke="#c0c0c0" stroke-width="1" shape-rendering="crispEdges" />
<line x1="479.5" y1="506.75" x2="479.5" y2="513.5" stroke="#c0c0c0" stroke-width="1" shape-rendering="crispEdges" />
<line x1="483.5" y1="507.5" x2="483.5" y2="513.5" stroke="#c0c0c0" stroke-width="1" shape-rendering="crispEdges" />
<line x1="487.5" y1="508.0" x2="487.5" y2="513.5" stroke="#c0c0c0" stroke-width="1" shape-rendering="crispEdges" />
<line x1="491.5" y1="507.5" x2="491.5" y2="513.5" stroke="#c0c0c0" stroke-width="1" shape-rendering="crispEdges" />
<line x1="495.5" y1="507.0" x2="495.5" y2="513.5" stroke="#c0c0c0" stroke-width="1" shape-rendering="crispEdges" />
<line x1="499.5" y1="505.5" x2="499.5" y2="513.5" stroke="#c0c0c0" stroke-width="1" shape-rendering="crispEdges" />
<line x1="503.5" y1="503.75" x2="503.5" y2="513.5" stroke="#c0c0c0" stroke-width="1" shape-rendering="crispEdges" />
<line x1="507.5" y1="502.5" x2="507.5" y2="513.5" stroke="#c0c0c0" stroke-width="1" shape-rendering="crispEdges" />
<line x1="511.5" y1="502.5027144408252" x2="511.5" y2="513.5" stroke="#c0c0c0" stroke-width="1" shape-rendering="crispEdges" />
<line x1="515.5" y1="501.1454940282302" x2="515.5" y2="513.5" stroke="#c0c0c0" stroke-width="1" shape-rendering="crispEdges" />
<line x1="519.5" y1="499.78827361563515" x2="519.5" y2="513.5" stroke="#c0c0c0" stroke-width="1" shape-rendering="crispEdges" />
<line x1="523.5" y1="501.6883821932682" x2="523.5" y2="513.5" stroke="#c0c0c0" stroke-width="1" shape-rendering="crispEdges" />
<line x1="527.5" y1="503.8599348534202" x2="527.5" y2="513.5" stroke="#c0c0c0" stroke-width="1" shape-rendering="crispEdges" />
<line x1="531.5" y1="507.9315960912052" x2="531.5" y2="513.5" stroke="#c0c0c0" stroke-width="1" shape-rendering="crispEdges" />
<line x1="535.5" y1="509.2888165038002" x2="535.5" y2="513.5" stroke="#c0c0c0" stroke-width="1" shape-rendering="crispEdges" />
<line x1="539.5" y1="508.7459283387622" x2="539.5" y2="513.5" stroke="#c0c0c0" stroke-width="1" shape-rendering="crispEdges" />
<line x1="543.5" y1="507.9315960912052" x2="543.5" y2="513.5" stroke="#c0c0c0" stroke-width="1" shape-rendering="crispEdges" />
<line x1="547.5" y1="505.2171552660152" x2="547.5" y2="513.5" stroke="#c0c0c0" stroke-width="1" shape-rendering="crispEdges" />
<line x1="551.5" y1="506.5743756786102" x2="551.5" y2="513.5" stroke="#c0c0c0" stroke-width="1" shape-rendering="crispEdges" />
<line x1="555.5" y1="510.64603691639525" x2="555.5" y2="513.5" stroke="#c0c0c0" stroke-width="1" shape-rendering="crispEdges" />
<line x1="559.5" y1="513.5" x2="559.5" y2="514.7176981541802" stroke="#c0c0c0" stroke-width="1" shape-rendering="crispEdges" />
<line x1="563.5" y1="513.5" x2="563.5" y2="520.1465798045602" stroke="#c0c0c0" stroke-width="1" shape-rendering="crispEdges" />
<line x1="567.5" y1="513.5" x2="567.5" y2="525.0325732899023" stroke="#c0c0c0" stroke-width="1" shape-rendering="crispEdges" />
<line x1="571.5" y1="513.5" x2="571.5" y2="528.8327904451683" stroke="#c0c0c0" stroke-width="1" shape-rendering="crispEdges" />
<line x1="575.5" y1="513.5" x2="575.5" y2="530.4614549402822" stroke="#c0c0c0" stroke-width="1" shape-rendering="crispEdges" />
<line x1="579.5" y1="513.5" x2="579.5" y2="531.8186753528773" stroke="#c0c0c0" stroke-width="1" shape-rendering="crispEdges" />
<line x1="583.5" y1="513.5" x2="583.5" y2="532.3615635179153" stroke="#c0c0c0" stroke-width="1" shape-rendering="crispEdges" />
<line x1="587.5" y1="513.5" x2="587.5" y2="532.9044516829533" stroke="#c0c0c0" stroke-width="1" shape-rendering="crispEdges" />
<line x1="591.5" y1="513.5" x2="591.5" y2="532.9044516829533" stroke="#c0c0c0" stroke-width="1" shape-rendering="crispEdges" />
<line x1="595.5" y1="513.5" x2="595.5" y2="533.1758957654723" stroke="#c0c0c0" stroke-width="1" shape-rendering="crispEdges" />
<line x1="599.5" y1="513.5" x2="599.5" y2="533.7187839305103" stroke="#c0c0c0" stroke-width="1" shape-rendering="crispEdges" />
<line x1="603.5" y1="513.5" x2="603.5" y2="533.7187839305103" stroke="#c0c0c0" stroke-width="1" shape-rendering="crispEdges" />
<line x1="607.5" y1="513.5" x2="607.5" y2="532.9044516829533" stroke="#c0c0c0" stroke-width="1" shape-rendering="crispEdges" />
<line x1="611.5" y1="513.5" x2="611.5" y2="531.8186753528773" stroke="#c0c0c0" stroke-width="1" shape-rendering="crispEdges" />
<line x1="615.5" y1="513.5" x2="615.5" y2="529.6471226927252" stroke="#c0c0c0" stroke-width="1" shape-rendering="crispEdges" />
<line x1="619.5" y1="513.5" x2="619.5" y2="527.7470141150923" stroke="#c0c0c0" stroke-width="1" shape-rendering="crispEdges" />
<line x1="623.5" y1="513.5" x2="623.5" y2="526.9326818675353" stroke="#c0c0c0" stroke-width="1" shape-rendering="crispEdges" />
<line x1="627.5" y1="513.5" x2="627.5" y2="526.9326818675353" stroke="#c0c0c0" stroke-width="1" shape-rendering="crispEdges" />
<polyline points="3.0,522.5 10.0,517.5 20.0,512.0 30.0,506.2 40.0,503.8 50.0,498.8 60.0,492.0 70.0,486.2 80.0,482.0 90.0,479.5 100.0,478.2 110.0,480.5 120.0,483.8 130.0,486.2 140.0,490.5 147.5,492.5 155.0,490.0 165.0,486.2 170.0,481.2 177.5,475.0 185.0,470.0 195.0,467.0 201.2,466.2 210.0,467.5 220.0,470.5 230.0,473.8 240.0,477.0 250.0,479.5 260.0,482.0 270.0,484.5 280.0,486.2 290.0,486.8 300.0,488.0 310.0,491.2 320.0,496.2 330.0,500.0 337.5,501.2 340.0,501.2 347.5,499.5 355.0,497.5 365.0,494.5 375.0,491.2 385.0,488.2 395.0,487.0 402.5,486.2 412.5,487.5 422.5,491.2 432.5,492.5 442.5,493.8 452.5,495.0 462.5,496.2 472.5,498.0 482.5,501.2 490.0,503.8 500.0,505.0 510.0,505.0 512.7,504.7 520.9,503.3 529.0,502.5 537.1,503.3 548.0,504.7 556.1,506.6 564.3,510.1 572.4,515.3 580.6,520.7 588.7,526.9 596.9,531.5 605.0,533.7 613.1,533.7 624.0,532.4" fill="none" stroke="#ff0000" stroke-width="1" stroke-linejoin="round" stroke-linecap="butt" stroke-dasharray="3,3" shape-rendering="crispEdges"/>
</g>
<text x="7.5" y="473" fill="#000" stroke="#000" stroke-width="0.2" font-size="10" textLength="152.5" lengthAdjust="spacingAndGlyphs" text-anchor="start" >MACD(12,26,9) -0.000362 -0.000491</text>
<line x1="655" y1="468.5" x2="657" y2="468.5" stroke="#000" stroke-width="1" shape-rendering="crispEdges" />
<text x="658.5" y="471.2" fill="#000" stroke="#000" stroke-width="0.2" font-size="10" textLength="38.8" lengthAdjust="spacingAndGlyphs" text-anchor="start" >0.001393</text>
<line x1="655" y1="513.5" x2="657" y2="513.5" stroke="#000" stroke-width="1" shape-rendering="crispEdges" />
<text x="658.5" y="516.8" fill="#000" stroke="#000" stroke-width="0.2" font-size="10" textLength="18" lengthAdjust="spacingAndGlyphs" text-anchor="start" >0.00</text>
<line x1="655" y1="533.5" x2="657" y2="533.5" stroke="#000" stroke-width="1" shape-rendering="crispEdges" />
<text x="658.5" y="536.3" fill="#000" stroke="#000" stroke-width="0.2" font-size="10" textLength="41.5" lengthAdjust="spacingAndGlyphs" text-anchor="start" >-0.000683</text>
<line x1="3.5" y1="540" x2="3.5" y2="543" stroke="#000" stroke-width="1" shape-rendering="crispEdges" />
<text x="3" y="551.9" fill="#000" stroke="#000" stroke-width="0.2" font-size="10" textLength="45.8" lengthAdjust="spacingAndGlyphs" text-anchor="start" >3 Feb 2020</text>
<line x1="67.5" y1="540" x2="67.5" y2="543" stroke="#000" stroke-width="1" shape-rendering="crispEdges" />
<text x="67" y="551.9" fill="#000" stroke="#000" stroke-width="0.2" font-size="10" textLength="49.3" lengthAdjust="spacingAndGlyphs" text-anchor="start" >4 Feb 15:00</text>
<line x1="131.5" y1="540" x2="131.5" y2="543" stroke="#000" stroke-width="1" shape-rendering="crispEdges" />
<text x="131" y="551.9" fill="#000" stroke="#000" stroke-width="0.2" font-size="10" textLength="49.3" lengthAdjust="spacingAndGlyphs" text-anchor="start" >5 Feb 07:00</text>
<line x1="195.5" y1="540" x2="195.5" y2="543" stroke="#000" stroke-width="1" shape-rendering="crispEdges" />
<text x="195" y="551.9" fill="#000" stroke="#000" stroke-width="0.2" font-size="10" textLength="49.3" lengthAdjust="spacingAndGlyphs" text-anchor="start" >5 Feb 23:00</text>
<line x1="259.5" y1="540" x2="259.5" y2="543" stroke="#000" stroke-width="1" shape-rendering="crispEdges" />
<text x="259" y="551.9" fill="#000" stroke="#000" stroke-width="0.2" font-size="10" textLength="49.3" lengthAdjust="spacingAndGlyphs" text-anchor="start" >6 Feb 15:00</text>
<line x1="323.5" y1="540" x2="323.5" y2="543" stroke="#000" stroke-width="1" shape-rendering="crispEdges" />
<text x="323" y="551.9" fill="#000" stroke="#000" stroke-width="0.2" font-size="10" textLength="49.3" lengthAdjust="spacingAndGlyphs" text-anchor="start" >7 Feb 07:00</text>
<line x1="387.5" y1="540" x2="387.5" y2="543" stroke="#000" stroke-width="1" shape-rendering="crispEdges" />
<text x="387" y="551.9" fill="#000" stroke="#000" stroke-width="0.2" font-size="10" textLength="49.3" lengthAdjust="spacingAndGlyphs" text-anchor="start" >7 Feb 23:00</text>
<line x1="451.5" y1="540" x2="451.5" y2="543" stroke="#000" stroke-width="1" shape-rendering="crispEdges" />
<text x="451" y="551.9" fill="#000" stroke="#000" stroke-width="0.2" font-size="10" textLength="54" lengthAdjust="spacingAndGlyphs" text-anchor="start" >10 Feb 15:00</text>
<line x1="515.5" y1="540" x2="515.5" y2="543" stroke="#000" stroke-width="1" shape-rendering="crispEdges" />
<text x="515" y="551.9" fill="#000" stroke="#000" stroke-width="0.2" font-size="10" textLength="54" lengthAdjust="spacingAndGlyphs" text-anchor="start" >11 Feb 07:00</text>
<line x1="579.5" y1="540" x2="579.5" y2="543" stroke="#000" stroke-width="1" shape-rendering="crispEdges" />
<text x="579" y="551.9" fill="#000" stroke="#000" stroke-width="0.2" font-size="10" textLength="54" lengthAdjust="spacingAndGlyphs" text-anchor="start" >11 Feb 23:00</text>
</svg>
</body></html>
